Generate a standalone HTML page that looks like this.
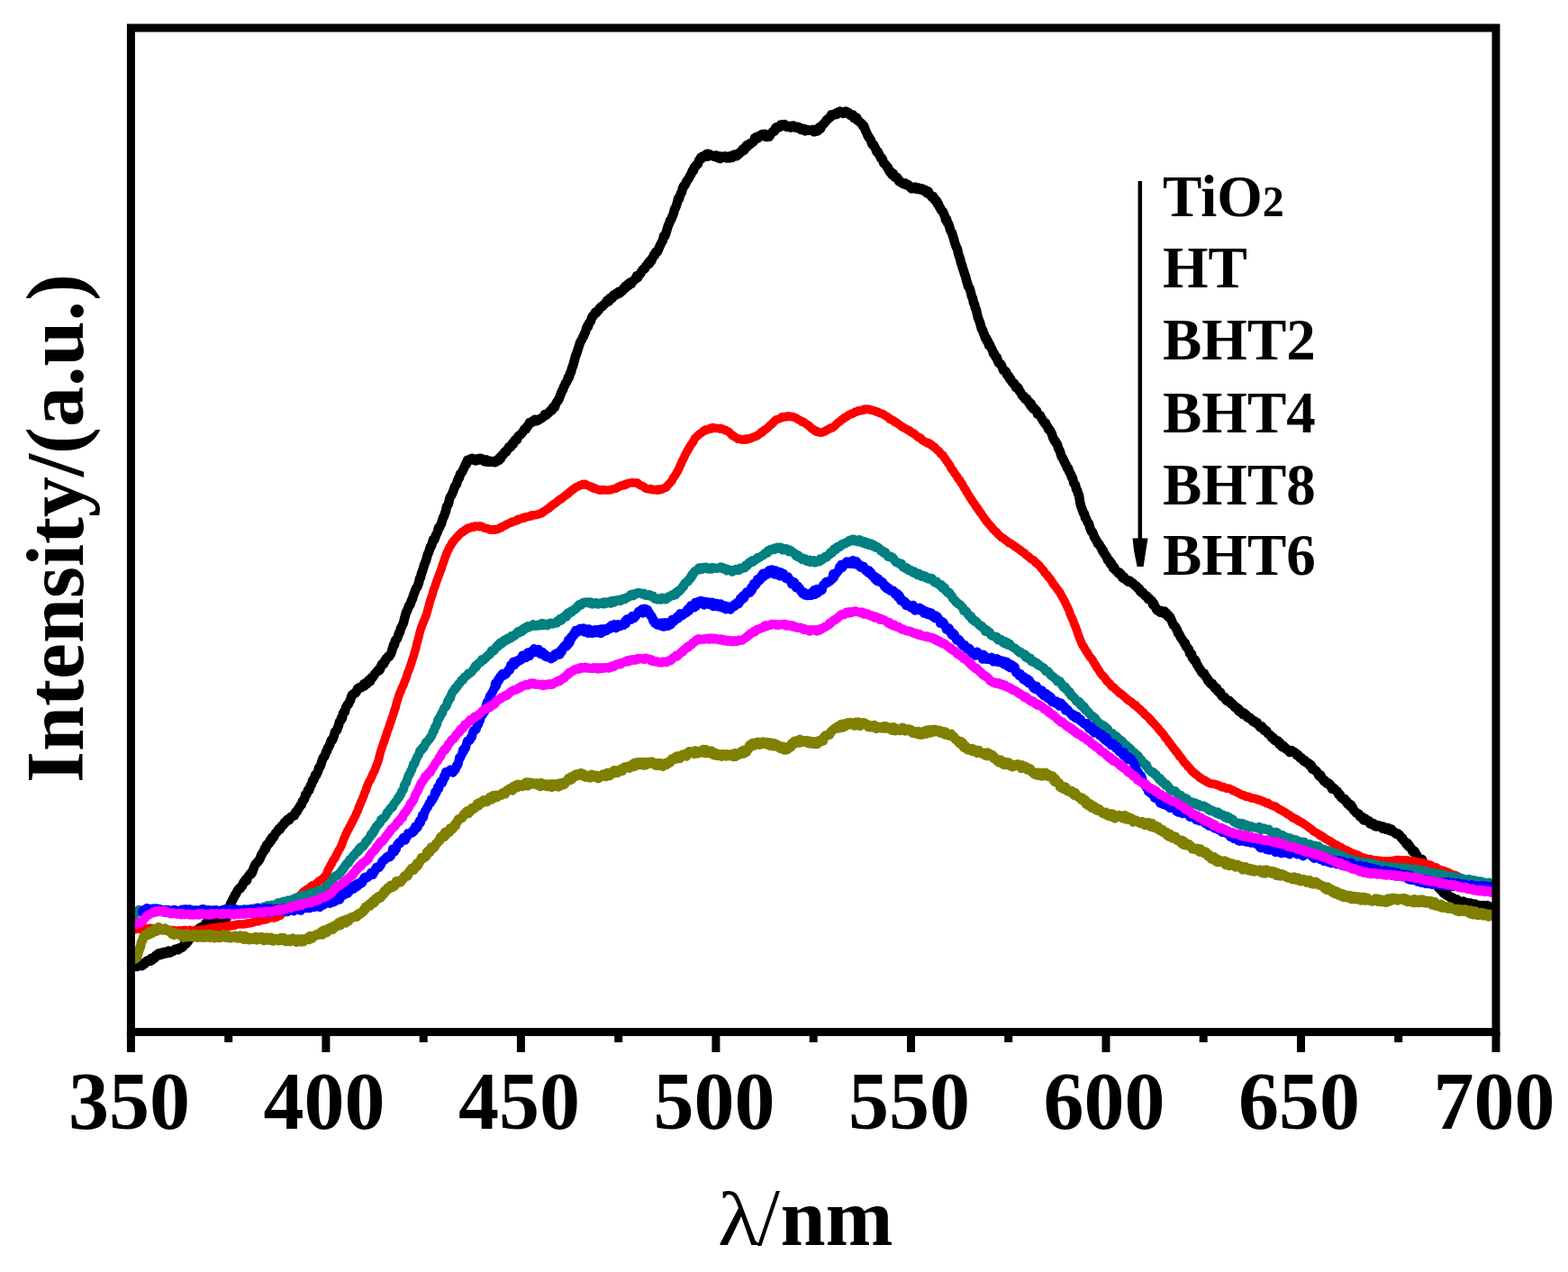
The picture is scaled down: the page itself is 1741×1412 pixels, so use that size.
<!DOCTYPE html>
<html><head><meta charset="utf-8"><title>PL spectra</title><style>
html,body{margin:0;padding:0;background:#fff;}
svg{display:block;}
</style></head><body>
<svg width="1741" height="1412" viewBox="0 0 1741 1412">
<rect width="1741" height="1412" fill="#fff"/>
<g fill="none" stroke-linejoin="round" stroke-linecap="round">
<path d="M146.0 1070.9L147.0 1071.9L148.0 1072.9L149.0 1072.8L150.0 1072.9L151.0 1071.9L152.0 1073.0L153.0 1072.0L154.0 1070.3L155.0 1071.3L156.0 1069.7L157.0 1072.3L158.0 1071.9L159.0 1069.5L160.0 1068.9L161.0 1069.8L162.0 1067.4L163.0 1066.8L164.0 1066.2L165.0 1066.1L166.0 1066.4L167.0 1066.8L168.0 1063.8L169.0 1065.6L170.0 1063.7L171.0 1064.2L172.0 1063.3L173.0 1060.6L174.0 1061.5L175.0 1059.3L176.0 1058.4L177.0 1059.2L178.0 1060.0L179.0 1059.0L180.0 1057.4L181.0 1059.2L182.0 1059.1L183.0 1056.7L184.0 1057.1L185.0 1057.5L186.0 1058.2L187.0 1055.5L188.0 1056.6L189.0 1057.6L190.0 1056.2L191.0 1056.2L192.0 1056.1L193.0 1054.9L194.0 1053.9L195.0 1054.6L196.0 1054.0L197.0 1053.0L198.0 1054.2L199.0 1052.1L200.0 1052.0L201.0 1052.2L202.0 1051.7L203.0 1051.2L204.0 1049.7L205.0 1047.3L206.0 1048.1L207.0 1047.3L208.0 1045.7L209.0 1044.8L210.0 1043.0L211.0 1041.9L212.0 1041.2L213.0 1038.8L214.0 1039.5L215.0 1039.1L216.0 1035.9L217.0 1036.8L218.0 1035.7L219.0 1032.8L220.0 1031.5L221.0 1032.2L222.0 1029.9L223.0 1029.2L224.0 1029.3L225.0 1028.6L226.0 1028.1L227.0 1026.9L228.0 1025.6L229.0 1024.1L230.0 1024.1L231.0 1024.0L232.0 1024.8L233.0 1025.2L234.0 1023.3L235.0 1023.6L236.0 1025.2L237.0 1023.2L238.0 1024.0L239.0 1023.4L240.0 1023.3L241.0 1022.5L242.0 1022.6L243.0 1022.9L244.0 1021.1L245.0 1023.0L246.0 1023.1L247.0 1020.2L248.0 1020.4L249.0 1020.2L250.0 1019.1L251.0 1018.3L252.0 1018.4L253.0 1013.7L254.0 1008.4L255.0 1007.3L256.0 1003.1L257.0 1001.5L258.0 999.4L259.0 997.2L260.0 995.8L261.0 993.2L262.0 992.8L263.0 990.1L264.0 988.2L265.0 986.8L266.0 985.9L267.0 986.1L268.0 983.6L269.0 983.5L270.0 980.3L271.0 978.7L272.0 978.9L273.0 976.0L274.0 977.4L275.0 974.2L276.0 972.5L277.0 971.1L278.0 969.7L279.0 970.1L280.0 968.7L281.0 965.6L282.0 962.9L283.0 960.5L284.0 958.9L285.0 957.9L286.0 957.3L287.0 955.5L288.0 954.5L289.0 952.5L290.0 949.2L291.0 948.4L292.0 945.9L293.0 945.0L294.0 941.6L295.0 942.5L296.0 938.0L297.0 938.4L298.0 936.1L299.0 936.1L300.0 932.6L301.0 933.6L302.0 929.4L303.0 930.4L304.0 929.0L305.0 927.1L306.0 924.7L307.0 924.1L308.0 923.0L309.0 921.0L310.0 919.6L311.0 920.6L312.0 918.5L313.0 916.4L314.0 916.4L315.0 915.3L316.0 912.7L317.0 913.1L318.0 912.1L319.0 909.7L320.0 909.4L321.0 910.4L322.0 908.6L323.0 906.7L324.0 906.4L325.0 905.8L326.0 905.7L327.0 905.3L328.0 901.8L329.0 900.6L330.0 900.6L331.0 898.0L332.0 896.9L333.0 895.1L334.0 893.3L335.0 893.1L336.0 889.1L337.0 888.3L338.0 887.2L339.0 882.5L340.0 882.6L341.0 880.2L342.0 877.0L343.0 877.6L344.0 874.9L345.0 871.6L346.0 871.0L347.0 866.2L348.0 866.4L349.0 864.4L350.0 860.1L351.0 860.7L352.0 858.2L353.0 856.5L354.0 852.4L355.0 851.7L356.0 849.7L357.0 846.2L358.0 843.0L359.0 840.8L360.0 840.2L361.0 838.1L362.0 834.6L363.0 834.1L364.0 830.0L365.0 829.2L366.0 827.1L367.0 823.9L368.0 821.2L369.0 821.7L370.0 819.3L371.0 816.2L372.0 812.2L373.0 811.5L374.0 810.7L375.0 807.8L376.0 805.3L377.0 801.0L378.0 800.4L379.0 797.0L380.0 797.1L381.0 791.7L382.0 790.1L383.0 790.0L384.0 785.3L385.0 783.8L386.0 781.8L387.0 781.6L388.0 778.9L389.0 777.6L390.0 773.4L391.0 771.3L392.0 770.6L393.0 770.7L394.0 769.0L395.0 769.0L396.0 767.3L397.0 764.4L398.0 764.4L399.0 763.2L400.0 762.7L401.0 763.3L402.0 761.8L403.0 762.1L404.0 759.1L405.0 761.2L406.0 758.1L407.0 759.2L408.0 758.8L409.0 755.4L410.0 756.1L411.0 756.5L412.0 752.4L413.0 752.9L414.0 751.5L415.0 750.2L416.0 748.4L417.0 747.1L418.0 746.1L419.0 744.7L420.0 743.6L421.0 744.3L422.0 743.1L423.0 739.5L424.0 737.4L425.0 736.7L426.0 737.2L427.0 733.7L428.0 733.8L429.0 730.6L430.0 730.2L431.0 728.5L432.0 729.1L433.0 726.9L434.0 726.0L435.0 722.7L436.0 719.7L437.0 715.8L438.0 715.8L439.0 710.8L440.0 709.9L441.0 709.1L442.0 706.1L443.0 702.4L444.0 701.8L445.0 697.3L446.0 695.9L447.0 693.4L448.0 691.3L449.0 686.8L450.0 683.5L451.0 679.5L452.0 678.3L453.0 675.5L454.0 672.3L455.0 671.9L456.0 669.5L457.0 666.2L458.0 664.6L459.0 660.9L460.0 658.7L461.0 655.7L462.0 653.0L463.0 652.0L464.0 649.9L465.0 647.0L466.0 642.0L467.0 641.2L468.0 636.1L469.0 634.1L470.0 630.7L471.0 627.2L472.0 624.8L473.0 622.4L474.0 618.6L475.0 615.0L476.0 613.2L477.0 610.2L478.0 606.6L479.0 606.2L480.0 602.2L481.0 598.9L482.0 599.7L483.0 597.4L484.0 593.9L485.0 592.4L486.0 589.9L487.0 585.8L488.0 585.7L489.0 582.9L490.0 581.6L491.0 577.7L492.0 574.5L493.0 573.3L494.0 569.7L495.0 567.7L496.0 562.1L497.0 561.2L498.0 559.2L499.0 554.3L500.0 551.4L501.0 550.1L502.0 548.2L503.0 545.7L504.0 543.0L505.0 540.0L506.0 538.9L507.0 537.4L508.0 533.6L509.0 531.0L510.0 530.7L511.0 526.1L512.0 525.3L513.0 524.2L514.0 522.0L515.0 519.8L516.0 517.6L517.0 515.1L518.0 515.2L519.0 510.7L520.0 511.0L521.0 510.4L522.0 510.8L523.0 509.2L524.0 508.8L525.0 509.7L526.0 510.4L527.0 510.2L528.0 511.4L529.0 510.2L530.0 509.3L531.0 510.7L532.0 509.9L533.0 508.8L534.0 510.0L535.0 509.2L536.0 510.9L537.0 511.9L538.0 511.6L539.0 512.6L540.0 510.3L541.0 512.8L542.0 512.9L543.0 511.5L544.0 512.5L545.0 511.7L546.0 512.2L547.0 513.0L548.0 512.5L549.0 512.3L550.0 513.1L551.0 512.6L552.0 510.3L553.0 511.1L554.0 511.0L555.0 507.7L556.0 509.0L557.0 505.7L558.0 505.9L559.0 504.6L560.0 502.2L561.0 501.2L562.0 501.8L563.0 499.3L564.0 498.8L565.0 496.4L566.0 496.6L567.0 496.4L568.0 494.5L569.0 492.1L570.0 492.9L571.0 489.8L572.0 488.4L573.0 487.6L574.0 488.2L575.0 485.1L576.0 483.6L577.0 483.2L578.0 482.3L579.0 481.5L580.0 480.1L581.0 478.8L582.0 476.8L583.0 475.7L584.0 476.4L585.0 473.7L586.0 473.5L587.0 471.2L588.0 469.2L589.0 469.6L590.0 469.3L591.0 468.2L592.0 467.1L593.0 466.5L594.0 465.7L595.0 467.4L596.0 466.4L597.0 466.8L598.0 466.3L599.0 465.3L600.0 464.7L601.0 464.4L602.0 463.7L603.0 462.7L604.0 462.3L605.0 459.9L606.0 461.2L607.0 460.2L608.0 459.2L609.0 458.5L610.0 457.4L611.0 456.0L612.0 455.0L613.0 455.4L614.0 452.3L615.0 452.4L616.0 452.1L617.0 448.6L618.0 446.7L619.0 445.5L620.0 444.0L621.0 442.1L622.0 438.9L623.0 436.6L624.0 434.0L625.0 432.7L626.0 429.4L627.0 427.9L628.0 425.2L629.0 424.5L630.0 422.2L631.0 418.7L632.0 418.8L633.0 414.0L634.0 413.4L635.0 408.7L636.0 406.5L637.0 403.1L638.0 399.5L639.0 395.1L640.0 393.3L641.0 389.9L642.0 386.8L643.0 383.9L644.0 380.6L645.0 378.5L646.0 377.1L647.0 374.6L648.0 373.3L649.0 370.3L650.0 368.9L651.0 364.7L652.0 362.4L653.0 362.7L654.0 358.9L655.0 357.5L656.0 356.6L657.0 352.6L658.0 351.0L659.0 350.7L660.0 348.4L661.0 346.7L662.0 347.6L663.0 345.9L664.0 344.5L665.0 344.0L666.0 341.9L667.0 341.1L668.0 340.0L669.0 340.0L670.0 338.5L671.0 337.9L672.0 336.9L673.0 336.1L674.0 333.5L675.0 335.0L676.0 334.5L677.0 331.0L678.0 332.3L679.0 331.0L680.0 330.8L681.0 327.7L682.0 327.1L683.0 328.0L684.0 327.3L685.0 325.2L686.0 326.6L687.0 323.7L688.0 325.5L689.0 324.5L690.0 323.5L691.0 323.2L692.0 320.6L693.0 320.8L694.0 318.0L695.0 319.5L696.0 316.8L697.0 315.5L698.0 316.9L699.0 313.8L700.0 314.7L701.0 314.8L702.0 312.5L703.0 311.6L704.0 311.4L705.0 310.4L706.0 308.6L707.0 306.2L708.0 308.2L709.0 306.4L710.0 304.5L711.0 304.1L712.0 301.7L713.0 300.6L714.0 298.8L715.0 298.8L716.0 298.2L717.0 295.5L718.0 294.5L719.0 293.9L720.0 291.4L721.0 292.6L722.0 289.2L723.0 290.1L724.0 287.6L725.0 285.3L726.0 283.0L727.0 283.2L728.0 279.8L729.0 279.0L730.0 279.4L731.0 277.0L732.0 274.7L733.0 272.3L734.0 270.3L735.0 268.5L736.0 266.8L737.0 262.0L738.0 262.4L739.0 260.3L740.0 256.7L741.0 253.4L742.0 250.0L743.0 248.4L744.0 244.8L745.0 244.2L746.0 241.4L747.0 239.1L748.0 236.7L749.0 232.1L750.0 230.7L751.0 227.9L752.0 224.7L753.0 220.6L754.0 220.7L755.0 217.2L756.0 214.5L757.0 213.4L758.0 208.8L759.0 206.4L760.0 206.3L761.0 204.5L762.0 202.0L763.0 200.3L764.0 199.2L765.0 197.7L766.0 195.4L767.0 194.0L768.0 191.7L769.0 189.0L770.0 189.5L771.0 185.5L772.0 184.4L773.0 184.2L774.0 181.9L775.0 181.8L776.0 178.3L777.0 177.3L778.0 175.0L779.0 176.0L780.0 173.6L781.0 174.1L782.0 173.6L783.0 172.4L784.0 171.1L785.0 173.8L786.0 170.8L787.0 173.4L788.0 171.3L789.0 172.4L790.0 172.6L791.0 172.7L792.0 173.4L793.0 173.9L794.0 174.1L795.0 172.4L796.0 173.5L797.0 173.1L798.0 175.7L799.0 174.5L800.0 176.0L801.0 173.5L802.0 175.0L803.0 174.4L804.0 173.8L805.0 173.4L806.0 174.7L807.0 175.6L808.0 174.3L809.0 174.3L810.0 175.6L811.0 173.3L812.0 173.4L813.0 174.9L814.0 172.1L815.0 171.7L816.0 173.4L817.0 172.4L818.0 173.3L819.0 171.7L820.0 170.1L821.0 170.6L822.0 169.1L823.0 168.8L824.0 166.5L825.0 165.2L826.0 166.9L827.0 165.7L828.0 162.5L829.0 161.3L830.0 162.7L831.0 161.4L832.0 159.7L833.0 160.1L834.0 159.2L835.0 158.4L836.0 157.8L837.0 156.6L838.0 153.2L839.0 154.4L840.0 151.9L841.0 153.7L842.0 152.7L843.0 151.4L844.0 150.3L845.0 150.6L846.0 149.0L847.0 150.2L848.0 151.3L849.0 148.7L850.0 150.4L851.0 152.1L852.0 150.3L853.0 150.8L854.0 151.8L855.0 150.3L856.0 148.3L857.0 147.5L858.0 146.1L859.0 145.3L860.0 145.6L861.0 142.1L862.0 141.3L863.0 142.4L864.0 140.5L865.0 140.6L866.0 141.0L867.0 138.4L868.0 138.5L869.0 138.3L870.0 138.4L871.0 138.1L872.0 138.7L873.0 140.9L874.0 141.0L875.0 140.4L876.0 140.0L877.0 140.9L878.0 141.7L879.0 139.7L880.0 141.3L881.0 139.5L882.0 140.5L883.0 141.3L884.0 141.8L885.0 140.8L886.0 141.7L887.0 141.2L888.0 142.2L889.0 143.9L890.0 142.4L891.0 142.9L892.0 144.1L893.0 143.0L894.0 145.5L895.0 143.9L896.0 143.9L897.0 144.1L898.0 144.7L899.0 144.8L900.0 144.8L901.0 144.9L902.0 144.2L903.0 143.8L904.0 146.3L905.0 146.1L906.0 145.5L907.0 144.3L908.0 145.4L909.0 142.1L910.0 141.0L911.0 142.9L912.0 140.5L913.0 139.3L914.0 137.9L915.0 137.2L916.0 135.8L917.0 134.7L918.0 132.8L919.0 132.6L920.0 131.2L921.0 130.9L922.0 130.0L923.0 127.3L924.0 127.8L925.0 128.0L926.0 127.6L927.0 126.3L928.0 126.4L929.0 127.0L930.0 124.6L931.0 124.4L932.0 124.3L933.0 123.6L934.0 124.9L935.0 124.8L936.0 126.0L937.0 124.6L938.0 123.8L939.0 123.6L940.0 125.5L941.0 124.4L942.0 124.8L943.0 126.4L944.0 128.0L945.0 127.0L946.0 127.5L947.0 127.5L948.0 131.0L949.0 131.2L950.0 131.0L951.0 130.3L952.0 133.9L953.0 133.7L954.0 134.9L955.0 135.8L956.0 136.6L957.0 137.4L958.0 139.9L959.0 139.4L960.0 141.9L961.0 145.0L962.0 146.9L963.0 149.3L964.0 151.7L965.0 152.3L966.0 154.3L967.0 155.5L968.0 159.3L969.0 160.9L970.0 160.5L971.0 162.7L972.0 164.7L973.0 167.7L974.0 169.1L975.0 168.9L976.0 171.3L977.0 173.2L978.0 175.6L979.0 175.3L980.0 177.1L981.0 180.6L982.0 182.0L983.0 182.4L984.0 183.8L985.0 185.9L986.0 186.0L987.0 189.2L988.0 191.0L989.0 190.3L990.0 193.5L991.0 194.4L992.0 192.8L993.0 196.0L994.0 197.0L995.0 197.3L996.0 196.9L997.0 198.6L998.0 200.9L999.0 200.6L1000.0 202.5L1001.0 202.7L1002.0 202.8L1003.0 204.2L1004.0 203.7L1005.0 203.3L1006.0 205.2L1007.0 204.7L1008.0 205.6L1009.0 205.4L1010.0 207.2L1011.0 208.3L1012.0 209.3L1013.0 208.7L1014.0 208.8L1015.0 209.1L1016.0 207.5L1017.0 208.8L1018.0 209.9L1019.0 209.2L1020.0 208.5L1021.0 209.9L1022.0 210.7L1023.0 209.6L1024.0 209.4L1025.0 210.3L1026.0 212.0L1027.0 210.8L1028.0 211.4L1029.0 214.3L1030.0 212.0L1031.0 212.9L1032.0 215.9L1033.0 216.3L1034.0 217.9L1035.0 219.1L1036.0 217.9L1037.0 220.9L1038.0 220.7L1039.0 223.4L1040.0 222.9L1041.0 226.8L1042.0 226.6L1043.0 229.7L1044.0 230.8L1045.0 233.3L1046.0 234.3L1047.0 235.0L1048.0 237.8L1049.0 239.7L1050.0 244.1L1051.0 243.2L1052.0 247.7L1053.0 248.0L1054.0 251.1L1055.0 255.0L1056.0 257.2L1057.0 258.4L1058.0 262.1L1059.0 265.1L1060.0 269.2L1061.0 271.8L1062.0 274.7L1063.0 276.4L1064.0 281.1L1065.0 284.6L1066.0 287.0L1067.0 291.9L1068.0 294.0L1069.0 298.1L1070.0 300.5L1071.0 304.3L1072.0 306.5L1073.0 311.0L1074.0 314.0L1075.0 318.0L1076.0 318.9L1077.0 321.3L1078.0 325.2L1079.0 329.3L1080.0 330.8L1081.0 336.4L1082.0 337.6L1083.0 342.3L1084.0 344.0L1085.0 349.0L1086.0 353.0L1087.0 355.4L1088.0 357.8L1089.0 361.6L1090.0 365.7L1091.0 366.0L1092.0 370.0L1093.0 371.6L1094.0 375.3L1095.0 375.1L1096.0 379.0L1097.0 378.5L1098.0 383.4L1099.0 382.5L1100.0 385.4L1101.0 386.9L1102.0 389.0L1103.0 392.7L1104.0 392.4L1105.0 395.3L1106.0 397.1L1107.0 397.1L1108.0 401.0L1109.0 403.2L1110.0 403.4L1111.0 403.9L1112.0 405.8L1113.0 408.2L1114.0 410.9L1115.0 411.7L1116.0 411.7L1117.0 412.6L1118.0 416.0L1119.0 416.6L1120.0 417.5L1121.0 420.5L1122.0 420.2L1123.0 423.1L1124.0 424.4L1125.0 425.8L1126.0 425.4L1127.0 427.5L1128.0 430.1L1129.0 429.5L1130.0 430.1L1131.0 431.3L1132.0 434.4L1133.0 435.2L1134.0 437.2L1135.0 439.2L1136.0 439.3L1137.0 440.1L1138.0 442.8L1139.0 443.4L1140.0 442.5L1141.0 444.4L1142.0 446.7L1143.0 446.6L1144.0 450.2L1145.0 448.4L1146.0 452.2L1147.0 453.5L1148.0 452.9L1149.0 454.0L1150.0 455.9L1151.0 456.0L1152.0 459.7L1153.0 459.8L1154.0 460.7L1155.0 461.2L1156.0 463.6L1157.0 465.1L1158.0 466.9L1159.0 468.4L1160.0 469.9L1161.0 469.4L1162.0 472.2L1163.0 473.5L1164.0 476.4L1165.0 476.3L1166.0 478.3L1167.0 479.9L1168.0 481.8L1169.0 485.6L1170.0 487.4L1171.0 489.7L1172.0 489.8L1173.0 492.3L1174.0 493.3L1175.0 497.4L1176.0 499.1L1177.0 501.1L1178.0 504.9L1179.0 507.5L1180.0 508.5L1181.0 510.8L1182.0 512.7L1183.0 515.2L1184.0 516.5L1185.0 519.8L1186.0 519.5L1187.0 523.1L1188.0 524.8L1189.0 526.6L1190.0 530.1L1191.0 530.4L1192.0 535.5L1193.0 537.6L1194.0 538.0L1195.0 543.0L1196.0 544.0L1197.0 548.1L1198.0 549.5L1199.0 556.5L1200.0 561.3L1201.0 563.9L1202.0 566.6L1203.0 569.4L1204.0 570.3L1205.0 575.2L1206.0 575.7L1207.0 578.3L1208.0 580.3L1209.0 581.2L1210.0 585.1L1211.0 588.1L1212.0 590.3L1213.0 590.6L1214.0 592.7L1215.0 596.4L1216.0 597.6L1217.0 599.2L1218.0 601.0L1219.0 603.5L1220.0 603.5L1221.0 605.4L1222.0 607.1L1223.0 608.3L1224.0 611.3L1225.0 611.1L1226.0 614.7L1227.0 615.3L1228.0 617.4L1229.0 618.1L1230.0 621.9L1231.0 621.4L1232.0 622.4L1233.0 626.3L1234.0 625.2L1235.0 627.3L1236.0 630.8L1237.0 629.4L1238.0 631.7L1239.0 633.4L1240.0 634.0L1241.0 634.9L1242.0 636.7L1243.0 635.4L1244.0 637.2L1245.0 637.6L1246.0 641.1L1247.0 641.7L1248.0 640.4L1249.0 642.3L1250.0 643.6L1251.0 643.8L1252.0 645.2L1253.0 646.0L1254.0 644.4L1255.0 645.3L1256.0 646.4L1257.0 647.1L1258.0 647.4L1259.0 648.7L1260.0 649.9L1261.0 650.7L1262.0 650.6L1263.0 652.6L1264.0 653.7L1265.0 653.4L1266.0 656.5L1267.0 656.4L1268.0 658.3L1269.0 657.7L1270.0 659.6L1271.0 660.2L1272.0 662.1L1273.0 661.2L1274.0 662.6L1275.0 665.3L1276.0 664.2L1277.0 665.8L1278.0 666.5L1279.0 667.0L1280.0 671.2L1281.0 669.6L1282.0 672.7L1283.0 674.0L1284.0 676.3L1285.0 677.8L1286.0 677.9L1287.0 677.9L1288.0 679.7L1289.0 677.8L1290.0 679.4L1291.0 678.6L1292.0 680.9L1293.0 678.6L1294.0 680.8L1295.0 680.6L1296.0 683.7L1297.0 682.5L1298.0 685.6L1299.0 684.8L1300.0 687.1L1301.0 689.2L1302.0 691.8L1303.0 694.0L1304.0 694.7L1305.0 695.5L1306.0 697.9L1307.0 699.0L1308.0 703.1L1309.0 703.5L1310.0 705.2L1311.0 707.8L1312.0 709.2L1313.0 710.4L1314.0 711.8L1315.0 714.1L1316.0 714.1L1317.0 717.9L1318.0 718.2L1319.0 719.9L1320.0 720.8L1321.0 725.3L1322.0 725.3L1323.0 725.6L1324.0 730.4L1325.0 731.4L1326.0 733.1L1327.0 732.6L1328.0 734.5L1329.0 737.8L1330.0 738.8L1331.0 740.9L1332.0 742.3L1333.0 743.7L1334.0 745.8L1335.0 747.1L1336.0 747.7L1337.0 747.5L1338.0 750.0L1339.0 751.3L1340.0 752.3L1341.0 755.2L1342.0 755.2L1343.0 757.5L1344.0 758.8L1345.0 759.6L1346.0 758.6L1347.0 761.4L1348.0 761.7L1349.0 764.1L1350.0 763.2L1351.0 763.9L1352.0 767.2L1353.0 768.1L1354.0 769.1L1355.0 768.4L1356.0 771.1L1357.0 772.9L1358.0 773.7L1359.0 773.7L1360.0 774.0L1361.0 776.7L1362.0 777.7L1363.0 778.2L1364.0 778.0L1365.0 777.8L1366.0 779.7L1367.0 781.6L1368.0 780.8L1369.0 782.2L1370.0 782.9L1371.0 785.2L1372.0 784.6L1373.0 786.2L1374.0 786.1L1375.0 789.1L1376.0 787.6L1377.0 790.4L1378.0 789.8L1379.0 791.7L1380.0 793.2L1381.0 791.3L1382.0 792.4L1383.0 793.1L1384.0 793.9L1385.0 796.4L1386.0 795.7L1387.0 797.2L1388.0 796.7L1389.0 798.7L1390.0 798.7L1391.0 800.8L1392.0 800.4L1393.0 800.3L1394.0 802.3L1395.0 802.3L1396.0 802.3L1397.0 804.5L1398.0 805.7L1399.0 806.9L1400.0 807.6L1401.0 806.2L1402.0 808.1L1403.0 808.7L1404.0 811.2L1405.0 811.4L1406.0 810.9L1407.0 812.9L1408.0 814.6L1409.0 815.0L1410.0 815.8L1411.0 816.5L1412.0 818.8L1413.0 819.5L1414.0 819.0L1415.0 821.6L1416.0 822.2L1417.0 821.7L1418.0 822.8L1419.0 822.4L1420.0 825.8L1421.0 824.4L1422.0 825.9L1423.0 828.6L1424.0 829.4L1425.0 827.9L1426.0 829.7L1427.0 829.8L1428.0 831.6L1429.0 831.5L1430.0 832.7L1431.0 833.5L1432.0 835.0L1433.0 833.5L1434.0 833.1L1435.0 834.5L1436.0 834.3L1437.0 835.0L1438.0 835.5L1439.0 836.8L1440.0 838.5L1441.0 837.6L1442.0 839.2L1443.0 841.0L1444.0 841.0L1445.0 841.1L1446.0 842.9L1447.0 844.2L1448.0 845.1L1449.0 844.3L1450.0 846.2L1451.0 847.0L1452.0 846.7L1453.0 847.2L1454.0 849.7L1455.0 848.7L1456.0 849.6L1457.0 853.7L1458.0 853.3L1459.0 853.9L1460.0 855.2L1461.0 855.4L1462.0 856.3L1463.0 858.1L1464.0 860.3L1465.0 861.7L1466.0 860.2L1467.0 862.2L1468.0 864.6L1469.0 864.8L1470.0 867.0L1471.0 866.4L1472.0 868.2L1473.0 869.8L1474.0 869.6L1475.0 869.3L1476.0 870.0L1477.0 871.2L1478.0 873.7L1479.0 875.8L1480.0 874.2L1481.0 875.9L1482.0 875.7L1483.0 877.3L1484.0 878.2L1485.0 878.4L1486.0 881.5L1487.0 882.7L1488.0 882.2L1489.0 885.0L1490.0 886.0L1491.0 886.7L1492.0 887.0L1493.0 886.9L1494.0 889.4L1495.0 889.0L1496.0 892.1L1497.0 892.9L1498.0 891.9L1499.0 895.0L1500.0 893.6L1501.0 895.4L1502.0 896.8L1503.0 899.6L1504.0 900.2L1505.0 901.2L1506.0 902.5L1507.0 902.8L1508.0 903.2L1509.0 903.7L1510.0 906.5L1511.0 906.2L1512.0 907.1L1513.0 907.2L1514.0 910.4L1515.0 908.6L1516.0 908.7L1517.0 910.4L1518.0 910.7L1519.0 911.4L1520.0 911.3L1521.0 914.3L1522.0 913.6L1523.0 915.1L1524.0 915.3L1525.0 913.9L1526.0 916.8L1527.0 915.6L1528.0 917.6L1529.0 916.7L1530.0 916.8L1531.0 916.3L1532.0 916.7L1533.0 917.1L1534.0 918.5L1535.0 919.8L1536.0 917.5L1537.0 920.2L1538.0 918.7L1539.0 920.7L1540.0 919.2L1541.0 919.0L1542.0 919.5L1543.0 922.1L1544.0 922.3L1545.0 920.4L1546.0 922.3L1547.0 923.5L1548.0 923.7L1549.0 924.7L1550.0 925.6L1551.0 924.8L1552.0 925.5L1553.0 926.1L1554.0 927.0L1555.0 928.9L1556.0 930.2L1557.0 930.2L1558.0 932.6L1559.0 933.3L1560.0 934.2L1561.0 935.9L1562.0 937.7L1563.0 936.0L1564.0 939.7L1565.0 938.8L1566.0 941.1L1567.0 941.5L1568.0 944.4L1569.0 945.7L1570.0 944.4L1571.0 945.3L1572.0 948.1L1573.0 948.9L1574.0 951.1L1575.0 952.1L1576.0 953.5L1577.0 953.9L1578.0 954.7L1579.0 954.0L1580.0 956.9L1581.0 959.3L1582.0 960.8L1583.0 962.9L1584.0 964.1L1585.0 967.1L1586.0 968.0L1587.0 970.7L1588.0 972.2L1589.0 971.4L1590.0 975.8L1591.0 974.8L1592.0 978.0L1593.0 980.2L1594.0 979.5L1595.0 982.1L1596.0 983.1L1597.0 985.1L1598.0 986.2L1599.0 985.5L1600.0 986.3L1601.0 989.5L1602.0 988.2L1603.0 991.7L1604.0 989.7L1605.0 992.2L1606.0 993.9L1607.0 992.5L1608.0 994.4L1609.0 995.3L1610.0 995.3L1611.0 996.8L1612.0 996.1L1613.0 996.3L1614.0 997.2L1615.0 999.5L1616.0 1000.3L1617.0 998.8L1618.0 998.5L1619.0 999.9L1620.0 1001.1L1621.0 1002.5L1622.0 1000.7L1623.0 1001.3L1624.0 1002.5L1625.0 1000.6L1626.0 1003.3L1627.0 1003.5L1628.0 1003.4L1629.0 1002.1L1630.0 1003.4L1631.0 1003.2L1632.0 1003.8L1633.0 1002.4L1634.0 1004.4L1635.0 1004.2L1636.0 1003.4L1637.0 1004.7L1638.0 1003.6L1639.0 1005.4L1640.0 1005.4L1641.0 1005.0L1642.0 1005.1L1643.0 1004.9L1644.0 1005.7L1645.0 1005.5L1646.0 1005.3L1647.0 1005.0L1648.0 1006.1L1649.0 1006.3L1650.0 1006.2L1651.0 1005.0L1652.0 1005.3L1653.0 1008.2L1654.0 1008.5L1655.0 1006.6L1656.0 1008.5L1657.0 1008.1L1658.0 1006.4L1659.0 1007.4" stroke="#000000" stroke-width="10.5"/>
<path d="M146.0 1032.1L147.0 1031.5L148.0 1032.3L149.0 1032.1L150.0 1031.5L151.0 1031.6L152.0 1030.9L153.0 1030.8L154.0 1030.8L155.0 1031.2L156.0 1030.6L157.0 1031.4L158.0 1030.2L159.0 1030.3L160.0 1030.1L161.0 1030.9L162.0 1030.4L163.0 1030.5L164.0 1030.3L165.0 1030.7L166.0 1030.4L167.0 1030.3L168.0 1030.6L169.0 1030.6L170.0 1030.4L171.0 1031.4L172.0 1031.4L173.0 1031.5L174.0 1031.9L175.0 1031.4L176.0 1031.5L177.0 1031.6L178.0 1031.7L179.0 1032.2L180.0 1031.5L181.0 1032.2L182.0 1032.4L183.0 1032.3L184.0 1032.0L185.0 1032.9L186.0 1032.1L187.0 1032.9L188.0 1032.5L189.0 1032.4L190.0 1032.6L191.0 1032.5L192.0 1032.6L193.0 1033.3L194.0 1033.4L195.0 1033.0L196.0 1033.3L197.0 1033.1L198.0 1033.1L199.0 1033.6L200.0 1032.9L201.0 1033.6L202.0 1033.3L203.0 1033.3L204.0 1032.5L205.0 1032.6L206.0 1032.5L207.0 1032.9L208.0 1033.6L209.0 1033.5L210.0 1033.4L211.0 1032.5L212.0 1033.2L213.0 1033.3L214.0 1033.3L215.0 1033.3L216.0 1032.5L217.0 1032.5L218.0 1033.2L219.0 1033.1L220.0 1033.3L221.0 1032.7L222.0 1033.2L223.0 1032.2L224.0 1033.1L225.0 1033.0L226.0 1032.2L227.0 1031.7L228.0 1032.1L229.0 1032.1L230.0 1031.4L231.0 1030.8L232.0 1030.8L233.0 1031.3L234.0 1030.2L235.0 1031.0L236.0 1030.0L237.0 1029.9L238.0 1029.6L239.0 1030.5L240.0 1030.3L241.0 1029.5L242.0 1029.1L243.0 1029.7L244.0 1029.9L245.0 1028.7L246.0 1029.3L247.0 1029.4L248.0 1028.8L249.0 1028.8L250.0 1028.9L251.0 1028.1L252.0 1028.0L253.0 1028.3L254.0 1028.0L255.0 1027.9L256.0 1027.5L257.0 1028.0L258.0 1027.1L259.0 1027.4L260.0 1027.5L261.0 1026.8L262.0 1026.2L263.0 1026.3L264.0 1026.0L265.0 1025.9L266.0 1025.8L267.0 1025.9L268.0 1025.9L269.0 1025.9L270.0 1026.0L271.0 1025.9L272.0 1025.8L273.0 1025.3L274.0 1025.5L275.0 1025.2L276.0 1024.6L277.0 1024.9L278.0 1024.4L279.0 1024.6L280.0 1024.4L281.0 1023.5L282.0 1023.5L283.0 1023.3L284.0 1022.8L285.0 1022.3L286.0 1022.0L287.0 1022.9L288.0 1022.3L289.0 1021.7L290.0 1021.7L291.0 1021.0L292.0 1021.3L293.0 1021.3L294.0 1020.8L295.0 1020.2L296.0 1020.6L297.0 1020.3L298.0 1019.0L299.0 1019.1L300.0 1018.9L301.0 1018.5L302.0 1018.8L303.0 1018.2L304.0 1018.9L305.0 1018.9L306.0 1017.8L307.0 1018.3L308.0 1017.4L309.0 1017.3L310.0 1016.7L311.0 1016.4L312.0 1015.4L313.0 1014.0L314.0 1013.6L315.0 1011.9L316.0 1011.7L317.0 1010.4L318.0 1009.2L319.0 1008.2L320.0 1007.2L321.0 1006.9L322.0 1005.0L323.0 1004.2L324.0 1003.1L325.0 1002.1L326.0 1001.8L327.0 1000.6L328.0 999.7L329.0 998.9L330.0 997.3L331.0 995.7L332.0 994.8L333.0 994.1L334.0 993.2L335.0 992.4L336.0 990.9L337.0 989.7L338.0 989.3L339.0 988.9L340.0 987.5L341.0 987.6L342.0 987.0L343.0 986.0L344.0 985.2L345.0 984.1L346.0 983.4L347.0 982.7L348.0 982.7L349.0 982.2L350.0 981.9L351.0 980.7L352.0 980.6L353.0 979.2L354.0 978.2L355.0 977.4L356.0 977.0L357.0 976.5L358.0 976.2L359.0 974.5L360.0 973.5L361.0 972.9L362.0 971.0L363.0 969.2L364.0 966.2L365.0 964.5L366.0 962.5L367.0 960.6L368.0 959.2L369.0 956.8L370.0 954.8L371.0 953.5L372.0 952.5L373.0 950.2L374.0 948.0L375.0 946.1L376.0 944.1L377.0 942.4L378.0 940.9L379.0 938.7L380.0 936.1L381.0 933.6L382.0 930.5L383.0 928.9L384.0 926.0L385.0 924.4L386.0 921.8L387.0 920.8L388.0 917.9L389.0 916.5L390.0 914.7L391.0 912.7L392.0 910.8L393.0 908.5L394.0 906.9L395.0 904.9L396.0 902.2L397.0 900.4L398.0 897.8L399.0 894.5L400.0 892.8L401.0 889.7L402.0 888.0L403.0 885.1L404.0 883.2L405.0 879.7L406.0 878.2L407.0 874.6L408.0 872.1L409.0 869.5L410.0 867.3L411.0 866.0L412.0 863.7L413.0 861.8L414.0 858.9L415.0 857.5L416.0 855.4L417.0 852.8L418.0 849.6L419.0 847.6L420.0 844.3L421.0 840.8L422.0 836.6L423.0 833.2L424.0 830.4L425.0 827.2L426.0 824.2L427.0 821.8L428.0 818.3L429.0 815.9L430.0 812.0L431.0 809.7L432.0 807.0L433.0 803.2L434.0 801.1L435.0 797.7L436.0 795.1L437.0 792.1L438.0 788.3L439.0 785.9L440.0 781.6L441.0 778.1L442.0 775.2L443.0 771.8L444.0 769.2L445.0 767.4L446.0 764.2L447.0 762.3L448.0 760.3L449.0 757.3L450.0 755.1L451.0 752.5L452.0 748.9L453.0 746.0L454.0 744.0L455.0 741.2L456.0 738.2L457.0 735.1L458.0 731.8L459.0 729.1L460.0 725.5L461.0 722.1L462.0 718.5L463.0 713.7L464.0 710.8L465.0 706.9L466.0 702.3L467.0 698.9L468.0 696.3L469.0 693.3L470.0 691.0L471.0 688.3L472.0 686.0L473.0 683.6L474.0 680.5L475.0 676.6L476.0 673.3L477.0 669.1L478.0 665.8L479.0 663.0L480.0 660.2L481.0 656.3L482.0 653.4L483.0 650.9L484.0 647.8L485.0 644.8L486.0 642.0L487.0 639.6L488.0 637.2L489.0 633.7L490.0 631.6L491.0 627.8L492.0 625.2L493.0 622.9L494.0 619.4L495.0 617.0L496.0 614.3L497.0 611.9L498.0 610.4L499.0 607.4L500.0 606.2L501.0 604.7L502.0 602.3L503.0 601.7L504.0 599.8L505.0 599.1L506.0 597.8L507.0 596.4L508.0 595.9L509.0 594.6L510.0 593.2L511.0 592.6L512.0 591.3L513.0 590.5L514.0 590.5L515.0 589.8L516.0 588.2L517.0 588.5L518.0 587.7L519.0 586.4L520.0 586.0L521.0 586.0L522.0 586.2L523.0 585.8L524.0 584.8L525.0 584.8L526.0 585.2L527.0 584.1L528.0 583.9L529.0 584.2L530.0 584.4L531.0 584.6L532.0 584.7L533.0 583.8L534.0 584.2L535.0 584.3L536.0 585.2L537.0 585.3L538.0 586.2L539.0 586.2L540.0 586.5L541.0 586.9L542.0 586.7L543.0 587.8L544.0 588.0L545.0 588.2L546.0 588.3L547.0 587.6L548.0 587.5L549.0 587.8L550.0 588.1L551.0 587.3L552.0 587.8L553.0 587.5L554.0 586.9L555.0 586.2L556.0 585.3L557.0 585.6L558.0 584.3L559.0 584.1L560.0 583.9L561.0 583.2L562.0 582.2L563.0 582.4L564.0 581.3L565.0 580.9L566.0 580.5L567.0 580.4L568.0 579.2L569.0 579.5L570.0 579.0L571.0 578.9L572.0 578.0L573.0 577.9L574.0 578.0L575.0 576.5L576.0 577.0L577.0 576.2L578.0 575.7L579.0 575.3L580.0 574.8L581.0 575.3L582.0 574.2L583.0 574.8L584.0 573.9L585.0 573.4L586.0 573.7L587.0 573.3L588.0 573.4L589.0 572.3L590.0 572.8L591.0 571.8L592.0 571.8L593.0 571.9L594.0 571.6L595.0 571.3L596.0 571.4L597.0 571.3L598.0 570.6L599.0 570.4L600.0 570.3L601.0 569.2L602.0 569.6L603.0 567.9L604.0 567.7L605.0 567.6L606.0 566.2L607.0 565.6L608.0 564.7L609.0 564.8L610.0 564.0L611.0 562.2L612.0 562.1L613.0 560.9L614.0 560.0L615.0 559.5L616.0 559.3L617.0 558.4L618.0 557.3L619.0 556.9L620.0 555.6L621.0 555.1L622.0 554.1L623.0 554.2L624.0 552.9L625.0 552.5L626.0 551.3L627.0 550.6L628.0 550.1L629.0 548.9L630.0 548.5L631.0 548.0L632.0 546.4L633.0 545.8L634.0 544.8L635.0 544.5L636.0 543.3L637.0 543.0L638.0 541.7L639.0 541.4L640.0 540.4L641.0 540.3L642.0 539.8L643.0 539.5L644.0 538.5L645.0 538.6L646.0 538.3L647.0 537.5L648.0 538.3L649.0 538.3L650.0 537.5L651.0 538.4L652.0 538.6L653.0 538.9L654.0 539.4L655.0 539.4L656.0 540.6L657.0 541.0L658.0 540.8L659.0 542.3L660.0 542.5L661.0 542.1L662.0 542.4L663.0 542.8L664.0 543.7L665.0 543.9L666.0 544.3L667.0 544.3L668.0 543.6L669.0 543.6L670.0 543.6L671.0 543.9L672.0 544.0L673.0 543.9L674.0 544.3L675.0 544.0L676.0 544.1L677.0 544.1L678.0 543.8L679.0 543.3L680.0 543.0L681.0 542.9L682.0 542.4L683.0 542.3L684.0 542.2L685.0 541.6L686.0 540.6L687.0 540.6L688.0 540.0L689.0 539.2L690.0 538.8L691.0 538.8L692.0 539.1L693.0 538.5L694.0 537.4L695.0 538.2L696.0 537.6L697.0 537.2L698.0 536.2L699.0 536.3L700.0 536.1L701.0 536.1L702.0 535.5L703.0 536.0L704.0 536.0L705.0 536.0L706.0 536.0L707.0 536.2L708.0 536.1L709.0 537.4L710.0 538.0L711.0 538.6L712.0 539.2L713.0 539.2L714.0 539.9L715.0 540.2L716.0 541.6L717.0 542.2L718.0 542.6L719.0 542.4L720.0 542.9L721.0 543.1L722.0 542.4L723.0 542.5L724.0 543.7L725.0 543.9L726.0 543.7L727.0 543.7L728.0 543.5L729.0 544.1L730.0 543.4L731.0 543.1L732.0 543.9L733.0 542.9L734.0 543.5L735.0 543.2L736.0 542.3L737.0 542.2L738.0 541.5L739.0 541.5L740.0 540.7L741.0 539.3L742.0 538.1L743.0 537.1L744.0 536.0L745.0 534.8L746.0 533.8L747.0 531.5L748.0 529.8L749.0 528.8L750.0 526.9L751.0 525.6L752.0 523.7L753.0 521.6L754.0 519.9L755.0 517.0L756.0 515.6L757.0 512.7L758.0 510.9L759.0 508.9L760.0 506.8L761.0 504.3L762.0 502.8L763.0 500.9L764.0 499.1L765.0 497.5L766.0 495.8L767.0 493.8L768.0 492.7L769.0 491.4L770.0 489.9L771.0 487.5L772.0 486.2L773.0 485.2L774.0 484.3L775.0 483.3L776.0 482.3L777.0 481.3L778.0 481.1L779.0 480.4L780.0 479.6L781.0 478.3L782.0 478.4L783.0 477.0L784.0 477.7L785.0 477.0L786.0 476.9L787.0 476.0L788.0 476.1L789.0 475.3L790.0 475.9L791.0 474.9L792.0 474.6L793.0 474.8L794.0 475.3L795.0 475.2L796.0 475.6L797.0 475.5L798.0 475.8L799.0 476.2L800.0 475.4L801.0 475.7L802.0 476.2L803.0 476.3L804.0 477.2L805.0 477.8L806.0 477.6L807.0 478.5L808.0 478.8L809.0 479.2L810.0 480.3L811.0 481.1L812.0 482.4L813.0 483.5L814.0 483.2L815.0 484.4L816.0 485.1L817.0 485.9L818.0 485.9L819.0 487.3L820.0 486.9L821.0 487.5L822.0 487.4L823.0 487.7L824.0 488.2L825.0 487.9L826.0 487.5L827.0 488.2L828.0 487.2L829.0 487.9L830.0 487.4L831.0 486.7L832.0 487.3L833.0 486.9L834.0 486.2L835.0 486.3L836.0 485.1L837.0 484.9L838.0 484.7L839.0 484.7L840.0 483.5L841.0 483.7L842.0 482.5L843.0 482.0L844.0 481.4L845.0 479.9L846.0 480.2L847.0 479.1L848.0 477.8L849.0 477.0L850.0 477.0L851.0 475.8L852.0 475.4L853.0 474.4L854.0 473.1L855.0 472.1L856.0 471.6L857.0 470.9L858.0 469.3L859.0 468.7L860.0 467.4L861.0 466.5L862.0 465.8L863.0 465.5L864.0 465.2L865.0 465.0L866.0 464.4L867.0 464.3L868.0 463.0L869.0 463.5L870.0 462.6L871.0 462.4L872.0 462.5L873.0 462.9L874.0 462.2L875.0 461.7L876.0 462.1L877.0 462.5L878.0 462.7L879.0 462.2L880.0 462.6L881.0 462.7L882.0 463.5L883.0 463.7L884.0 464.0L885.0 464.8L886.0 465.6L887.0 466.0L888.0 466.7L889.0 466.9L890.0 468.1L891.0 467.7L892.0 468.3L893.0 468.9L894.0 470.0L895.0 470.4L896.0 470.9L897.0 471.4L898.0 473.1L899.0 473.0L900.0 474.5L901.0 475.7L902.0 475.7L903.0 476.8L904.0 477.9L905.0 478.0L906.0 479.1L907.0 478.5L908.0 479.5L909.0 480.0L910.0 479.8L911.0 480.2L912.0 480.3L913.0 480.0L914.0 479.3L915.0 479.2L916.0 479.1L917.0 478.3L918.0 477.2L919.0 476.9L920.0 476.8L921.0 475.7L922.0 475.1L923.0 475.5L924.0 474.4L925.0 474.4L926.0 473.5L927.0 472.7L928.0 471.5L929.0 470.5L930.0 469.5L931.0 468.8L932.0 468.3L933.0 467.6L934.0 466.2L935.0 465.7L936.0 464.8L937.0 464.7L938.0 463.2L939.0 463.2L940.0 462.3L941.0 462.1L942.0 460.8L943.0 460.3L944.0 460.0L945.0 459.3L946.0 459.3L947.0 459.2L948.0 458.3L949.0 457.5L950.0 456.9L951.0 457.2L952.0 456.7L953.0 455.8L954.0 455.9L955.0 456.1L956.0 455.7L957.0 455.1L958.0 455.6L959.0 455.4L960.0 454.1L961.0 454.2L962.0 454.6L963.0 454.2L964.0 454.1L965.0 454.9L966.0 455.1L967.0 454.8L968.0 455.6L969.0 455.4L970.0 455.8L971.0 456.0L972.0 456.6L973.0 457.2L974.0 457.1L975.0 457.4L976.0 458.2L977.0 458.7L978.0 459.0L979.0 458.9L980.0 459.4L981.0 460.3L982.0 460.5L983.0 461.5L984.0 462.1L985.0 462.4L986.0 463.1L987.0 464.3L988.0 465.3L989.0 465.1L990.0 466.3L991.0 466.5L992.0 466.7L993.0 468.4L994.0 468.1L995.0 469.2L996.0 469.3L997.0 470.3L998.0 471.0L999.0 471.7L1000.0 472.5L1001.0 473.7L1002.0 473.8L1003.0 474.2L1004.0 475.3L1005.0 475.4L1006.0 476.3L1007.0 476.6L1008.0 477.5L1009.0 477.3L1010.0 478.0L1011.0 479.3L1012.0 480.0L1013.0 480.2L1014.0 480.5L1015.0 481.9L1016.0 482.0L1017.0 483.1L1018.0 484.3L1019.0 485.0L1020.0 485.8L1021.0 485.6L1022.0 487.1L1023.0 486.9L1024.0 488.7L1025.0 489.1L1026.0 489.7L1027.0 490.4L1028.0 490.8L1029.0 491.3L1030.0 492.0L1031.0 491.5L1032.0 492.1L1033.0 493.5L1034.0 493.4L1035.0 494.9L1036.0 495.2L1037.0 496.4L1038.0 496.5L1039.0 497.9L1040.0 499.0L1041.0 500.0L1042.0 500.3L1043.0 501.3L1044.0 503.1L1045.0 504.1L1046.0 504.8L1047.0 505.4L1048.0 507.4L1049.0 508.7L1050.0 509.9L1051.0 511.7L1052.0 512.8L1053.0 514.6L1054.0 515.6L1055.0 517.2L1056.0 519.7L1057.0 521.3L1058.0 521.7L1059.0 523.8L1060.0 525.4L1061.0 526.8L1062.0 528.0L1063.0 529.5L1064.0 531.6L1065.0 532.2L1066.0 533.6L1067.0 536.0L1068.0 536.7L1069.0 538.7L1070.0 540.5L1071.0 542.3L1072.0 543.4L1073.0 545.5L1074.0 547.2L1075.0 549.0L1076.0 550.2L1077.0 552.4L1078.0 553.3L1079.0 555.4L1080.0 556.3L1081.0 558.3L1082.0 559.2L1083.0 561.1L1084.0 562.8L1085.0 563.4L1086.0 565.7L1087.0 566.3L1088.0 568.6L1089.0 569.3L1090.0 570.9L1091.0 572.4L1092.0 573.8L1093.0 575.6L1094.0 576.6L1095.0 578.5L1096.0 579.2L1097.0 580.9L1098.0 581.5L1099.0 583.0L1100.0 584.2L1101.0 585.0L1102.0 586.7L1103.0 587.6L1104.0 588.5L1105.0 589.7L1106.0 590.2L1107.0 591.3L1108.0 593.0L1109.0 593.7L1110.0 594.3L1111.0 595.8L1112.0 596.6L1113.0 597.2L1114.0 597.3L1115.0 598.4L1116.0 599.1L1117.0 600.1L1118.0 600.5L1119.0 601.4L1120.0 602.7L1121.0 602.5L1122.0 603.1L1123.0 604.3L1124.0 604.3L1125.0 605.3L1126.0 605.8L1127.0 607.0L1128.0 606.9L1129.0 608.0L1130.0 609.0L1131.0 609.5L1132.0 609.9L1133.0 610.4L1134.0 612.0L1135.0 612.5L1136.0 613.2L1137.0 613.5L1138.0 614.3L1139.0 615.8L1140.0 616.6L1141.0 617.4L1142.0 617.6L1143.0 618.9L1144.0 619.8L1145.0 620.7L1146.0 621.3L1147.0 621.3L1148.0 622.2L1149.0 623.3L1150.0 624.8L1151.0 625.1L1152.0 625.7L1153.0 627.2L1154.0 627.8L1155.0 629.1L1156.0 630.6L1157.0 631.5L1158.0 632.7L1159.0 633.9L1160.0 635.7L1161.0 636.9L1162.0 637.7L1163.0 638.6L1164.0 640.6L1165.0 641.3L1166.0 642.5L1167.0 644.0L1168.0 645.8L1169.0 647.6L1170.0 648.5L1171.0 650.2L1172.0 651.2L1173.0 652.8L1174.0 654.0L1175.0 655.6L1176.0 656.6L1177.0 658.0L1178.0 660.2L1179.0 661.9L1180.0 663.6L1181.0 665.3L1182.0 667.4L1183.0 669.2L1184.0 671.4L1185.0 673.7L1186.0 675.7L1187.0 677.6L1188.0 681.0L1189.0 683.5L1190.0 685.3L1191.0 687.8L1192.0 689.9L1193.0 693.5L1194.0 695.1L1195.0 698.2L1196.0 700.5L1197.0 704.2L1198.0 706.6L1199.0 709.3L1200.0 711.5L1201.0 714.0L1202.0 716.4L1203.0 717.4L1204.0 719.4L1205.0 720.9L1206.0 722.9L1207.0 723.9L1208.0 726.0L1209.0 727.4L1210.0 728.9L1211.0 730.4L1212.0 731.0L1213.0 732.4L1214.0 734.4L1215.0 736.1L1216.0 737.9L1217.0 739.0L1218.0 741.3L1219.0 742.3L1220.0 743.8L1221.0 745.6L1222.0 747.3L1223.0 748.5L1224.0 750.1L1225.0 750.5L1226.0 751.7L1227.0 752.8L1228.0 754.7L1229.0 756.0L1230.0 756.4L1231.0 758.0L1232.0 758.6L1233.0 760.0L1234.0 761.5L1235.0 762.4L1236.0 762.6L1237.0 763.3L1238.0 764.5L1239.0 765.7L1240.0 766.3L1241.0 767.3L1242.0 768.2L1243.0 769.5L1244.0 769.6L1245.0 770.5L1246.0 771.2L1247.0 772.3L1248.0 772.7L1249.0 773.9L1250.0 774.7L1251.0 775.9L1252.0 776.4L1253.0 777.6L1254.0 777.7L1255.0 778.7L1256.0 779.4L1257.0 779.7L1258.0 781.4L1259.0 782.1L1260.0 782.8L1261.0 782.5L1262.0 784.4L1263.0 785.3L1264.0 786.4L1265.0 786.4L1266.0 787.5L1267.0 789.0L1268.0 789.9L1269.0 790.2L1270.0 791.1L1271.0 793.1L1272.0 793.8L1273.0 794.4L1274.0 795.5L1275.0 796.1L1276.0 797.3L1277.0 799.1L1278.0 799.1L1279.0 801.1L1280.0 802.0L1281.0 802.6L1282.0 804.1L1283.0 805.0L1284.0 806.2L1285.0 807.3L1286.0 808.3L1287.0 810.2L1288.0 811.2L1289.0 812.0L1290.0 813.5L1291.0 814.4L1292.0 815.6L1293.0 817.1L1294.0 819.1L1295.0 819.6L1296.0 821.0L1297.0 822.1L1298.0 824.5L1299.0 825.0L1300.0 826.2L1301.0 828.2L1302.0 828.7L1303.0 830.9L1304.0 832.1L1305.0 832.5L1306.0 834.7L1307.0 835.3L1308.0 836.4L1309.0 838.5L1310.0 840.0L1311.0 840.6L1312.0 841.8L1313.0 843.4L1314.0 845.0L1315.0 846.5L1316.0 847.4L1317.0 848.2L1318.0 849.5L1319.0 851.2L1320.0 851.6L1321.0 852.9L1322.0 853.7L1323.0 855.7L1324.0 856.5L1325.0 856.8L1326.0 858.3L1327.0 859.4L1328.0 859.5L1329.0 860.3L1330.0 861.1L1331.0 862.5L1332.0 862.7L1333.0 863.9L1334.0 864.0L1335.0 865.1L1336.0 865.9L1337.0 866.0L1338.0 866.2L1339.0 867.5L1340.0 868.1L1341.0 867.9L1342.0 868.9L1343.0 869.4L1344.0 869.8L1345.0 870.0L1346.0 869.9L1347.0 870.0L1348.0 870.3L1349.0 870.6L1350.0 871.0L1351.0 871.2L1352.0 871.3L1353.0 872.0L1354.0 872.1L1355.0 873.1L1356.0 873.0L1357.0 874.0L1358.0 873.9L1359.0 873.6L1360.0 874.4L1361.0 874.6L1362.0 875.3L1363.0 875.3L1364.0 875.1L1365.0 875.4L1366.0 876.0L1367.0 876.3L1368.0 876.7L1369.0 877.8L1370.0 877.7L1371.0 878.5L1372.0 878.8L1373.0 879.6L1374.0 879.6L1375.0 880.3L1376.0 880.7L1377.0 881.5L1378.0 882.0L1379.0 882.7L1380.0 882.9L1381.0 882.5L1382.0 883.7L1383.0 884.1L1384.0 884.5L1385.0 884.0L1386.0 884.7L1387.0 884.5L1388.0 885.3L1389.0 885.7L1390.0 886.2L1391.0 886.0L1392.0 886.4L1393.0 886.3L1394.0 886.4L1395.0 887.1L1396.0 887.1L1397.0 888.1L1398.0 887.9L1399.0 888.4L1400.0 888.3L1401.0 889.0L1402.0 890.0L1403.0 889.5L1404.0 890.3L1405.0 891.0L1406.0 891.6L1407.0 891.7L1408.0 891.3L1409.0 892.6L1410.0 893.1L1411.0 893.6L1412.0 894.0L1413.0 894.3L1414.0 894.9L1415.0 895.0L1416.0 895.0L1417.0 895.8L1418.0 896.6L1419.0 897.3L1420.0 898.4L1421.0 898.3L1422.0 899.0L1423.0 900.0L1424.0 900.0L1425.0 900.8L1426.0 901.2L1427.0 902.2L1428.0 902.4L1429.0 903.6L1430.0 904.0L1431.0 904.3L1432.0 905.0L1433.0 906.0L1434.0 906.3L1435.0 907.6L1436.0 908.2L1437.0 908.1L1438.0 909.1L1439.0 909.1L1440.0 909.6L1441.0 911.0L1442.0 911.7L1443.0 911.5L1444.0 912.2L1445.0 913.2L1446.0 913.2L1447.0 913.9L1448.0 914.9L1449.0 915.5L1450.0 915.9L1451.0 916.9L1452.0 917.3L1453.0 918.2L1454.0 919.3L1455.0 919.8L1456.0 920.3L1457.0 921.1L1458.0 922.4L1459.0 923.1L1460.0 923.7L1461.0 924.3L1462.0 924.6L1463.0 925.4L1464.0 925.6L1465.0 927.3L1466.0 927.0L1467.0 927.5L1468.0 928.8L1469.0 928.8L1470.0 930.2L1471.0 930.3L1472.0 931.5L1473.0 931.9L1474.0 932.0L1475.0 933.0L1476.0 933.8L1477.0 933.6L1478.0 934.4L1479.0 935.3L1480.0 936.1L1481.0 936.4L1482.0 937.0L1483.0 937.9L1484.0 937.9L1485.0 938.5L1486.0 939.3L1487.0 940.4L1488.0 940.3L1489.0 940.4L1490.0 941.1L1491.0 941.9L1492.0 943.0L1493.0 943.1L1494.0 943.4L1495.0 943.6L1496.0 944.2L1497.0 945.3L1498.0 945.9L1499.0 945.6L1500.0 946.4L1501.0 946.9L1502.0 947.4L1503.0 947.3L1504.0 947.7L1505.0 948.3L1506.0 948.9L1507.0 949.0L1508.0 949.2L1509.0 950.7L1510.0 950.5L1511.0 951.0L1512.0 951.2L1513.0 952.3L1514.0 952.4L1515.0 952.9L1516.0 952.5L1517.0 953.5L1518.0 953.4L1519.0 953.4L1520.0 954.1L1521.0 953.7L1522.0 954.9L1523.0 954.2L1524.0 955.1L1525.0 954.9L1526.0 954.7L1527.0 955.6L1528.0 954.9L1529.0 955.9L1530.0 955.3L1531.0 955.4L1532.0 955.2L1533.0 955.4L1534.0 956.4L1535.0 956.3L1536.0 956.0L1537.0 956.4L1538.0 955.8L1539.0 955.9L1540.0 955.8L1541.0 955.7L1542.0 955.8L1543.0 955.7L1544.0 955.9L1545.0 955.9L1546.0 955.3L1547.0 955.3L1548.0 955.4L1549.0 954.8L1550.0 954.6L1551.0 954.6L1552.0 955.4L1553.0 954.7L1554.0 954.6L1555.0 955.4L1556.0 955.3L1557.0 955.1L1558.0 954.7L1559.0 955.6L1560.0 954.9L1561.0 954.8L1562.0 955.6L1563.0 955.0L1564.0 956.0L1565.0 955.9L1566.0 955.5L1567.0 956.0L1568.0 955.4L1569.0 956.1L1570.0 955.9L1571.0 955.9L1572.0 956.7L1573.0 957.1L1574.0 956.8L1575.0 957.4L1576.0 957.1L1577.0 957.3L1578.0 958.0L1579.0 958.2L1580.0 957.7L1581.0 958.2L1582.0 959.0L1583.0 959.1L1584.0 959.0L1585.0 959.6L1586.0 960.6L1587.0 959.9L1588.0 960.1L1589.0 960.5L1590.0 961.5L1591.0 962.4L1592.0 962.8L1593.0 962.7L1594.0 962.6L1595.0 963.0L1596.0 964.3L1597.0 964.6L1598.0 964.8L1599.0 965.7L1600.0 965.6L1601.0 966.2L1602.0 966.3L1603.0 966.2L1604.0 967.7L1605.0 967.6L1606.0 967.5L1607.0 968.7L1608.0 968.3L1609.0 968.9L1610.0 969.9L1611.0 970.1L1612.0 970.8L1613.0 971.1L1614.0 970.9L1615.0 971.3L1616.0 971.4L1617.0 972.6L1618.0 973.1L1619.0 973.0L1620.0 973.9L1621.0 974.6L1622.0 974.6L1623.0 974.9L1624.0 975.6L1625.0 975.9L1626.0 976.2L1627.0 976.9L1628.0 977.8L1629.0 977.7L1630.0 978.0L1631.0 979.5L1632.0 979.1L1633.0 979.7L1634.0 980.3L1635.0 981.6L1636.0 981.6L1637.0 982.4L1638.0 982.7L1639.0 983.3L1640.0 982.8L1641.0 983.3L1642.0 984.4L1643.0 985.0L1644.0 985.4L1645.0 985.4L1646.0 985.8L1647.0 986.8L1648.0 987.1L1649.0 987.0L1650.0 987.8L1651.0 987.5L1652.0 988.7L1653.0 988.5L1654.0 988.8L1655.0 989.7L1656.0 990.0L1657.0 990.5L1658.0 990.5L1659.0 991.6" stroke="#ff0000" stroke-width="9.5"/>
<path d="M146.0 1014.9L147.0 1016.5L148.0 1015.1L149.0 1016.4L150.0 1015.2L151.0 1013.3L152.0 1013.0L153.0 1012.2L154.0 1009.9L155.0 1011.2L156.0 1011.5L157.0 1011.1L158.0 1012.2L159.0 1011.7L160.0 1010.6L161.0 1010.2L162.0 1009.9L163.0 1011.9L164.0 1011.5L165.0 1011.3L166.0 1010.8L167.0 1010.9L168.0 1010.1L169.0 1011.0L170.0 1009.9L171.0 1011.3L172.0 1011.3L173.0 1011.4L174.0 1010.2L175.0 1009.7L176.0 1010.4L177.0 1011.5L178.0 1011.0L179.0 1011.7L180.0 1010.7L181.0 1010.6L182.0 1012.2L183.0 1009.9L184.0 1010.1L185.0 1011.2L186.0 1011.4L187.0 1010.8L188.0 1011.1L189.0 1010.8L190.0 1011.5L191.0 1012.1L192.0 1012.0L193.0 1011.4L194.0 1010.9L195.0 1012.3L196.0 1010.8L197.0 1011.4L198.0 1012.1L199.0 1011.5L200.0 1010.7L201.0 1011.7L202.0 1011.3L203.0 1012.2L204.0 1011.4L205.0 1011.1L206.0 1012.4L207.0 1011.1L208.0 1010.7L209.0 1012.3L210.0 1012.3L211.0 1010.0L212.0 1009.7L213.0 1012.1L214.0 1012.2L215.0 1010.7L216.0 1010.3L217.0 1011.6L218.0 1012.3L219.0 1010.2L220.0 1010.9L221.0 1011.5L222.0 1010.2L223.0 1010.8L224.0 1010.0L225.0 1011.0L226.0 1010.2L227.0 1009.8L228.0 1010.7L229.0 1010.0L230.0 1009.9L231.0 1010.0L232.0 1010.8L233.0 1010.5L234.0 1011.7L235.0 1010.8L236.0 1010.3L237.0 1010.1L238.0 1010.4L239.0 1011.8L240.0 1010.1L241.0 1010.9L242.0 1011.9L243.0 1012.0L244.0 1010.9L245.0 1012.0L246.0 1011.4L247.0 1010.2L248.0 1009.8L249.0 1010.0L250.0 1011.8L251.0 1010.6L252.0 1012.0L253.0 1012.3L254.0 1012.2L255.0 1010.8L256.0 1009.4L257.0 1010.2L258.0 1010.0L259.0 1011.3L260.0 1011.4L261.0 1012.1L262.0 1011.4L263.0 1012.1L264.0 1011.1L265.0 1010.6L266.0 1011.7L267.0 1009.9L268.0 1011.4L269.0 1011.2L270.0 1011.6L271.0 1009.1L272.0 1009.5L273.0 1011.7L274.0 1009.2L275.0 1010.1L276.0 1010.5L277.0 1010.0L278.0 1011.1L279.0 1011.2L280.0 1009.3L281.0 1008.5L282.0 1010.7L283.0 1009.2L284.0 1008.5L285.0 1008.0L286.0 1007.4L287.0 1009.0L288.0 1007.9L289.0 1008.5L290.0 1009.4L291.0 1007.9L292.0 1009.1L293.0 1006.2L294.0 1008.0L295.0 1007.8L296.0 1008.1L297.0 1005.1L298.0 1006.2L299.0 1006.1L300.0 1006.0L301.0 1005.3L302.0 1004.4L303.0 1006.0L304.0 1005.7L305.0 1004.9L306.0 1005.4L307.0 1003.9L308.0 1002.3L309.0 1003.9L310.0 1001.9L311.0 1003.6L312.0 1003.0L313.0 1001.4L314.0 1001.0L315.0 1000.5L316.0 1000.5L317.0 1002.7L318.0 1000.1L319.0 1001.8L320.0 999.3L321.0 999.6L322.0 999.7L323.0 999.0L324.0 1000.5L325.0 998.0L326.0 998.5L327.0 997.3L328.0 996.7L329.0 998.1L330.0 996.8L331.0 996.9L332.0 997.2L333.0 995.1L334.0 994.6L335.0 996.2L336.0 996.8L337.0 993.6L338.0 994.6L339.0 995.9L340.0 995.0L341.0 995.2L342.0 993.4L343.0 994.4L344.0 991.3L345.0 992.2L346.0 992.9L347.0 991.2L348.0 990.9L349.0 990.6L350.0 990.0L351.0 990.9L352.0 991.0L353.0 988.4L354.0 988.3L355.0 989.3L356.0 988.7L357.0 988.5L358.0 987.6L359.0 987.8L360.0 987.1L361.0 985.9L362.0 984.3L363.0 983.0L364.0 984.6L365.0 983.7L366.0 982.8L367.0 979.7L368.0 979.7L369.0 978.9L370.0 975.3L371.0 973.6L372.0 972.9L373.0 972.0L374.0 972.3L375.0 971.6L376.0 970.5L377.0 969.0L378.0 968.8L379.0 967.7L380.0 965.0L381.0 965.3L382.0 963.5L383.0 960.9L384.0 960.8L385.0 958.4L386.0 957.9L387.0 957.9L388.0 954.4L389.0 954.8L390.0 953.3L391.0 951.7L392.0 949.9L393.0 950.1L394.0 948.4L395.0 946.5L396.0 946.3L397.0 946.0L398.0 943.0L399.0 944.0L400.0 940.8L401.0 940.9L402.0 939.5L403.0 939.8L404.0 938.7L405.0 937.1L406.0 934.5L407.0 933.3L408.0 933.5L409.0 931.2L410.0 930.1L411.0 929.0L412.0 925.9L413.0 925.1L414.0 925.3L415.0 922.0L416.0 922.1L417.0 918.7L418.0 916.9L419.0 916.9L420.0 914.9L421.0 914.5L422.0 913.6L423.0 910.1L424.0 910.1L425.0 908.4L426.0 908.6L427.0 907.1L428.0 905.9L429.0 904.1L430.0 901.6L431.0 901.1L432.0 899.7L433.0 898.0L434.0 896.6L435.0 896.5L436.0 896.1L437.0 892.9L438.0 892.0L439.0 890.1L440.0 889.3L441.0 887.9L442.0 885.5L443.0 885.4L444.0 882.7L445.0 882.1L446.0 878.4L447.0 877.7L448.0 876.2L449.0 871.5L450.0 869.8L451.0 869.2L452.0 865.2L453.0 862.6L454.0 859.8L455.0 859.6L456.0 855.8L457.0 855.2L458.0 851.8L459.0 848.3L460.0 848.3L461.0 845.8L462.0 843.1L463.0 840.6L464.0 839.1L465.0 837.9L466.0 833.9L467.0 832.5L468.0 832.6L469.0 830.1L470.0 830.5L471.0 828.7L472.0 826.4L473.0 824.0L474.0 824.0L475.0 822.6L476.0 821.2L477.0 820.3L478.0 817.9L479.0 817.5L480.0 814.8L481.0 811.5L482.0 811.3L483.0 807.0L484.0 806.7L485.0 804.3L486.0 799.9L487.0 797.8L488.0 797.3L489.0 794.6L490.0 792.4L491.0 791.7L492.0 788.5L493.0 786.0L494.0 785.4L495.0 784.6L496.0 782.9L497.0 778.4L498.0 778.4L499.0 775.1L500.0 775.1L501.0 771.4L502.0 768.8L503.0 767.8L504.0 766.7L505.0 764.2L506.0 764.6L507.0 762.0L508.0 761.9L509.0 759.2L510.0 758.7L511.0 758.0L512.0 755.5L513.0 754.6L514.0 755.1L515.0 752.6L516.0 751.3L517.0 751.0L518.0 750.1L519.0 749.5L520.0 747.5L521.0 747.7L522.0 747.2L523.0 746.4L524.0 745.4L525.0 743.7L526.0 742.7L527.0 740.7L528.0 738.8L529.0 740.3L530.0 737.7L531.0 736.5L532.0 736.1L533.0 735.7L534.0 735.0L535.0 731.9L536.0 733.0L537.0 732.5L538.0 731.8L539.0 730.8L540.0 728.8L541.0 728.9L542.0 727.1L543.0 727.0L544.0 726.5L545.0 723.8L546.0 722.1L547.0 723.1L548.0 722.7L549.0 721.7L550.0 719.4L551.0 718.4L552.0 716.5L553.0 717.8L554.0 715.2L555.0 713.9L556.0 713.0L557.0 714.8L558.0 712.5L559.0 713.0L560.0 710.2L561.0 710.8L562.0 711.0L563.0 710.5L564.0 708.2L565.0 708.6L566.0 709.0L567.0 708.7L568.0 705.7L569.0 706.6L570.0 706.8L571.0 705.4L572.0 705.3L573.0 703.2L574.0 703.1L575.0 701.1L576.0 702.8L577.0 701.5L578.0 699.8L579.0 701.5L580.0 698.7L581.0 697.7L582.0 699.2L583.0 696.7L584.0 697.8L585.0 695.7L586.0 694.9L587.0 696.5L588.0 695.7L589.0 695.5L590.0 695.2L591.0 695.0L592.0 693.1L593.0 693.7L594.0 694.0L595.0 694.8L596.0 694.0L597.0 693.5L598.0 694.5L599.0 694.5L600.0 692.7L601.0 692.4L602.0 691.8L603.0 694.3L604.0 692.3L605.0 693.3L606.0 693.1L607.0 693.5L608.0 694.3L609.0 693.4L610.0 691.8L611.0 692.4L612.0 691.5L613.0 691.8L614.0 692.6L615.0 692.0L616.0 691.5L617.0 691.8L618.0 691.8L619.0 689.0L620.0 689.8L621.0 689.1L622.0 686.7L623.0 689.0L624.0 686.6L625.0 686.8L626.0 684.7L627.0 684.6L628.0 682.8L629.0 684.6L630.0 680.9L631.0 680.2L632.0 681.3L633.0 680.0L634.0 678.4L635.0 679.5L636.0 678.0L637.0 676.5L638.0 676.5L639.0 676.4L640.0 675.4L641.0 673.0L642.0 673.5L643.0 671.1L644.0 670.8L645.0 672.0L646.0 670.7L647.0 669.1L648.0 669.1L649.0 668.5L650.0 669.1L651.0 668.5L652.0 668.3L653.0 668.3L654.0 669.8L655.0 669.8L656.0 668.3L657.0 669.0L658.0 670.7L659.0 670.3L660.0 670.1L661.0 670.3L662.0 669.0L663.0 670.1L664.0 670.7L665.0 669.7L666.0 669.6L667.0 669.6L668.0 670.1L669.0 668.8L670.0 670.6L671.0 668.2L672.0 670.2L673.0 669.3L674.0 668.4L675.0 668.2L676.0 668.1L677.0 667.6L678.0 669.9L679.0 667.5L680.0 666.7L681.0 668.2L682.0 668.9L683.0 666.6L684.0 666.2L685.0 667.0L686.0 666.0L687.0 666.1L688.0 666.2L689.0 667.2L690.0 665.1L691.0 664.7L692.0 665.4L693.0 664.7L694.0 665.3L695.0 663.6L696.0 663.8L697.0 663.0L698.0 662.8L699.0 661.9L700.0 660.4L701.0 659.7L702.0 660.0L703.0 661.4L704.0 659.4L705.0 659.0L706.0 658.6L707.0 659.4L708.0 658.0L709.0 658.0L710.0 657.9L711.0 658.6L712.0 658.4L713.0 658.9L714.0 660.1L715.0 658.5L716.0 659.6L717.0 660.9L718.0 660.4L719.0 661.0L720.0 661.3L721.0 659.9L722.0 661.6L723.0 661.2L724.0 661.8L725.0 661.6L726.0 664.0L727.0 664.8L728.0 665.0L729.0 663.9L730.0 665.6L731.0 665.4L732.0 665.0L733.0 665.7L734.0 665.7L735.0 663.4L736.0 665.3L737.0 665.3L738.0 664.3L739.0 665.5L740.0 665.1L741.0 662.9L742.0 663.4L743.0 661.9L744.0 662.5L745.0 661.2L746.0 660.3L747.0 660.5L748.0 661.1L749.0 658.8L750.0 660.4L751.0 657.3L752.0 658.4L753.0 655.8L754.0 656.7L755.0 654.7L756.0 654.6L757.0 652.4L758.0 650.8L759.0 651.5L760.0 647.8L761.0 647.0L762.0 645.9L763.0 646.0L764.0 645.5L765.0 642.7L766.0 642.5L767.0 642.0L768.0 638.1L769.0 639.1L770.0 635.9L771.0 634.4L772.0 634.7L773.0 633.4L774.0 632.6L775.0 632.7L776.0 630.3L777.0 631.7L778.0 630.1L779.0 632.3L780.0 630.8L781.0 630.0L782.0 630.9L783.0 630.6L784.0 629.6L785.0 631.6L786.0 630.6L787.0 631.7L788.0 631.4L789.0 631.5L790.0 631.8L791.0 629.7L792.0 630.5L793.0 630.4L794.0 630.5L795.0 630.9L796.0 630.9L797.0 630.6L798.0 630.6L799.0 630.5L800.0 629.4L801.0 630.0L802.0 629.8L803.0 631.5L804.0 631.9L805.0 631.0L806.0 631.8L807.0 633.6L808.0 631.7L809.0 633.1L810.0 633.2L811.0 633.2L812.0 632.7L813.0 634.7L814.0 633.5L815.0 633.3L816.0 632.0L817.0 631.7L818.0 632.9L819.0 632.0L820.0 633.1L821.0 632.8L822.0 630.5L823.0 631.1L824.0 630.4L825.0 630.9L826.0 630.1L827.0 630.3L828.0 627.2L829.0 627.8L830.0 627.8L831.0 625.3L832.0 624.2L833.0 624.7L834.0 623.4L835.0 622.1L836.0 623.9L837.0 622.8L838.0 621.9L839.0 621.7L840.0 620.6L841.0 619.0L842.0 619.2L843.0 619.1L844.0 618.4L845.0 617.6L846.0 616.8L847.0 616.7L848.0 616.0L849.0 614.5L850.0 613.4L851.0 613.6L852.0 614.0L853.0 610.9L854.0 611.4L855.0 610.1L856.0 609.7L857.0 610.7L858.0 609.3L859.0 608.7L860.0 609.9L861.0 609.6L862.0 609.2L863.0 607.6L864.0 607.8L865.0 609.0L866.0 607.5L867.0 607.7L868.0 608.4L869.0 610.4L870.0 610.0L871.0 610.6L872.0 610.6L873.0 608.9L874.0 611.1L875.0 611.4L876.0 612.6L877.0 610.5L878.0 611.3L879.0 611.6L880.0 613.0L881.0 613.4L882.0 613.8L883.0 616.0L884.0 617.2L885.0 617.9L886.0 616.1L887.0 617.0L888.0 618.5L889.0 620.1L890.0 620.6L891.0 621.3L892.0 619.6L893.0 621.3L894.0 620.2L895.0 622.4L896.0 623.1L897.0 621.9L898.0 622.3L899.0 621.5L900.0 624.1L901.0 622.6L902.0 622.4L903.0 622.8L904.0 622.1L905.0 624.5L906.0 624.3L907.0 622.9L908.0 622.3L909.0 622.4L910.0 623.4L911.0 620.4L912.0 620.6L913.0 621.5L914.0 619.9L915.0 619.8L916.0 617.9L917.0 618.1L918.0 618.7L919.0 617.1L920.0 615.9L921.0 615.8L922.0 612.9L923.0 613.6L924.0 613.6L925.0 611.0L926.0 609.2L927.0 610.2L928.0 610.3L929.0 607.2L930.0 606.9L931.0 607.5L932.0 606.3L933.0 607.0L934.0 605.0L935.0 603.9L936.0 603.4L937.0 603.3L938.0 603.7L939.0 603.2L940.0 601.8L941.0 601.2L942.0 601.6L943.0 599.9L944.0 600.5L945.0 599.9L946.0 598.7L947.0 600.5L948.0 598.6L949.0 599.2L950.0 600.1L951.0 601.0L952.0 600.5L953.0 601.6L954.0 599.0L955.0 601.6L956.0 601.7L957.0 601.9L958.0 603.0L959.0 600.7L960.0 601.0L961.0 604.0L962.0 604.1L963.0 602.1L964.0 603.4L965.0 605.0L966.0 604.5L967.0 603.2L968.0 604.1L969.0 606.4L970.0 604.8L971.0 605.7L972.0 607.8L973.0 606.4L974.0 608.2L975.0 607.6L976.0 608.3L977.0 610.1L978.0 611.5L979.0 611.1L980.0 611.4L981.0 613.5L982.0 614.3L983.0 612.9L984.0 615.6L985.0 615.9L986.0 618.0L987.0 617.5L988.0 618.3L989.0 617.4L990.0 619.3L991.0 618.7L992.0 619.8L993.0 621.5L994.0 623.3L995.0 624.3L996.0 624.6L997.0 624.3L998.0 624.9L999.0 626.3L1000.0 626.0L1001.0 625.8L1002.0 628.6L1003.0 629.9L1004.0 630.4L1005.0 630.4L1006.0 631.5L1007.0 630.3L1008.0 631.0L1009.0 633.4L1010.0 632.9L1011.0 632.6L1012.0 634.3L1013.0 635.0L1014.0 636.0L1015.0 634.2L1016.0 635.2L1017.0 636.3L1018.0 637.7L1019.0 638.6L1020.0 636.4L1021.0 637.4L1022.0 638.1L1023.0 640.0L1024.0 639.5L1025.0 638.9L1026.0 640.1L1027.0 639.3L1028.0 641.7L1029.0 640.8L1030.0 641.7L1031.0 642.8L1032.0 642.4L1033.0 641.5L1034.0 642.8L1035.0 642.3L1036.0 644.0L1037.0 646.2L1038.0 646.0L1039.0 647.3L1040.0 645.4L1041.0 647.7L1042.0 648.7L1043.0 648.4L1044.0 650.3L1045.0 648.9L1046.0 652.2L1047.0 653.2L1048.0 651.8L1049.0 652.3L1050.0 655.7L1051.0 655.8L1052.0 658.0L1053.0 657.7L1054.0 657.8L1055.0 659.0L1056.0 661.4L1057.0 661.6L1058.0 664.7L1059.0 665.3L1060.0 665.9L1061.0 668.0L1062.0 668.9L1063.0 668.8L1064.0 670.6L1065.0 671.1L1066.0 671.1L1067.0 672.3L1068.0 673.9L1069.0 674.2L1070.0 677.8L1071.0 677.7L1072.0 678.0L1073.0 678.5L1074.0 681.3L1075.0 681.6L1076.0 683.9L1077.0 684.2L1078.0 683.7L1079.0 687.3L1080.0 688.1L1081.0 687.5L1082.0 689.8L1083.0 690.3L1084.0 689.7L1085.0 691.0L1086.0 692.2L1087.0 693.8L1088.0 694.5L1089.0 695.5L1090.0 694.7L1091.0 696.6L1092.0 696.7L1093.0 698.2L1094.0 700.9L1095.0 698.9L1096.0 699.4L1097.0 701.4L1098.0 702.0L1099.0 701.9L1100.0 704.9L1101.0 705.4L1102.0 706.1L1103.0 706.2L1104.0 706.5L1105.0 707.3L1106.0 706.7L1107.0 706.9L1108.0 710.3L1109.0 710.7L1110.0 709.4L1111.0 710.7L1112.0 710.0L1113.0 712.7L1114.0 713.4L1115.0 714.1L1116.0 711.9L1117.0 715.0L1118.0 712.8L1119.0 715.2L1120.0 716.3L1121.0 714.5L1122.0 716.3L1123.0 717.5L1124.0 718.1L1125.0 718.9L1126.0 719.2L1127.0 719.5L1128.0 720.3L1129.0 721.8L1130.0 722.6L1131.0 723.1L1132.0 724.5L1133.0 723.5L1134.0 724.4L1135.0 725.3L1136.0 725.6L1137.0 727.7L1138.0 726.3L1139.0 729.8L1140.0 728.2L1141.0 730.4L1142.0 731.3L1143.0 730.6L1144.0 730.6L1145.0 734.1L1146.0 734.6L1147.0 734.1L1148.0 734.0L1149.0 735.4L1150.0 736.4L1151.0 735.6L1152.0 737.8L1153.0 738.7L1154.0 738.0L1155.0 739.1L1156.0 739.9L1157.0 740.4L1158.0 741.6L1159.0 741.4L1160.0 742.8L1161.0 745.2L1162.0 745.4L1163.0 745.6L1164.0 745.4L1165.0 746.9L1166.0 748.9L1167.0 749.0L1168.0 750.7L1169.0 751.3L1170.0 751.6L1171.0 753.1L1172.0 753.4L1173.0 753.7L1174.0 756.6L1175.0 756.7L1176.0 756.6L1177.0 756.4L1178.0 758.7L1179.0 759.3L1180.0 761.9L1181.0 763.2L1182.0 763.6L1183.0 762.6L1184.0 765.6L1185.0 765.3L1186.0 767.5L1187.0 769.4L1188.0 768.3L1189.0 772.1L1190.0 772.8L1191.0 772.6L1192.0 773.9L1193.0 774.4L1194.0 776.9L1195.0 778.3L1196.0 777.8L1197.0 779.8L1198.0 778.7L1199.0 779.8L1200.0 783.2L1201.0 781.9L1202.0 784.6L1203.0 785.6L1204.0 784.6L1205.0 788.0L1206.0 788.1L1207.0 788.9L1208.0 790.6L1209.0 790.7L1210.0 793.1L1211.0 793.2L1212.0 794.8L1213.0 794.7L1214.0 795.6L1215.0 796.4L1216.0 796.9L1217.0 799.9L1218.0 800.0L1219.0 802.0L1220.0 802.1L1221.0 803.4L1222.0 803.7L1223.0 804.4L1224.0 806.4L1225.0 805.1L1226.0 807.5L1227.0 806.5L1228.0 807.8L1229.0 811.2L1230.0 809.1L1231.0 812.3L1232.0 813.7L1233.0 813.7L1234.0 815.3L1235.0 813.7L1236.0 816.3L1237.0 816.8L1238.0 817.3L1239.0 816.9L1240.0 817.7L1241.0 820.7L1242.0 819.7L1243.0 822.1L1244.0 821.3L1245.0 823.6L1246.0 822.7L1247.0 826.3L1248.0 826.4L1249.0 825.9L1250.0 829.0L1251.0 827.4L1252.0 829.2L1253.0 830.4L1254.0 830.0L1255.0 832.6L1256.0 832.2L1257.0 834.8L1258.0 836.2L1259.0 837.1L1260.0 835.6L1261.0 837.7L1262.0 839.4L1263.0 838.4L1264.0 839.4L1265.0 842.7L1266.0 843.6L1267.0 843.1L1268.0 845.8L1269.0 847.0L1270.0 846.5L1271.0 848.3L1272.0 850.0L1273.0 848.9L1274.0 851.8L1275.0 853.6L1276.0 854.6L1277.0 855.7L1278.0 856.1L1279.0 857.5L1280.0 856.8L1281.0 857.5L1282.0 860.0L1283.0 859.3L1284.0 860.4L1285.0 862.4L1286.0 862.8L1287.0 865.3L1288.0 863.9L1289.0 865.5L1290.0 868.1L1291.0 867.2L1292.0 869.4L1293.0 869.7L1294.0 871.9L1295.0 870.4L1296.0 872.3L1297.0 872.6L1298.0 874.6L1299.0 876.2L1300.0 876.2L1301.0 877.8L1302.0 878.2L1303.0 877.9L1304.0 878.0L1305.0 878.1L1306.0 879.8L1307.0 880.4L1308.0 881.9L1309.0 883.7L1310.0 883.1L1311.0 882.7L1312.0 885.3L1313.0 884.5L1314.0 886.1L1315.0 886.7L1316.0 887.3L1317.0 886.2L1318.0 886.8L1319.0 889.3L1320.0 889.0L1321.0 890.1L1322.0 891.3L1323.0 890.1L1324.0 890.8L1325.0 892.2L1326.0 891.0L1327.0 892.4L1328.0 891.5L1329.0 893.9L1330.0 892.8L1331.0 893.0L1332.0 894.2L1333.0 895.4L1334.0 895.4L1335.0 895.1L1336.0 894.5L1337.0 895.9L1338.0 895.0L1339.0 896.8L1340.0 896.1L1341.0 898.2L1342.0 899.2L1343.0 898.0L1344.0 900.2L1345.0 899.5L1346.0 899.4L1347.0 900.2L1348.0 901.3L1349.0 901.6L1350.0 902.5L1351.0 903.0L1352.0 901.2L1353.0 903.8L1354.0 904.3L1355.0 903.2L1356.0 904.6L1357.0 904.5L1358.0 904.7L1359.0 905.5L1360.0 907.6L1361.0 906.3L1362.0 905.8L1363.0 908.7L1364.0 907.4L1365.0 907.3L1366.0 908.3L1367.0 908.8L1368.0 910.4L1369.0 909.5L1370.0 912.4L1371.0 912.3L1372.0 913.6L1373.0 913.9L1374.0 914.3L1375.0 914.9L1376.0 913.5L1377.0 915.5L1378.0 914.5L1379.0 916.5L1380.0 914.1L1381.0 916.2L1382.0 916.0L1383.0 917.4L1384.0 915.6L1385.0 917.3L1386.0 916.4L1387.0 918.5L1388.0 917.3L1389.0 917.1L1390.0 918.6L1391.0 918.2L1392.0 918.3L1393.0 918.5L1394.0 918.4L1395.0 919.1L1396.0 919.4L1397.0 919.5L1398.0 917.7L1399.0 919.8L1400.0 921.1L1401.0 920.5L1402.0 920.4L1403.0 919.3L1404.0 920.7L1405.0 920.8L1406.0 920.3L1407.0 921.0L1408.0 921.3L1409.0 920.8L1410.0 922.5L1411.0 923.8L1412.0 923.6L1413.0 924.9L1414.0 925.2L1415.0 924.7L1416.0 923.7L1417.0 923.6L1418.0 925.7L1419.0 924.6L1420.0 926.7L1421.0 927.7L1422.0 926.6L1423.0 926.8L1424.0 927.0L1425.0 929.8L1426.0 928.6L1427.0 928.7L1428.0 929.8L1429.0 930.5L1430.0 930.2L1431.0 931.1L1432.0 930.0L1433.0 930.5L1434.0 931.3L1435.0 932.4L1436.0 932.4L1437.0 932.1L1438.0 932.6L1439.0 932.0L1440.0 934.2L1441.0 935.0L1442.0 934.9L1443.0 935.2L1444.0 934.1L1445.0 934.5L1446.0 935.2L1447.0 934.6L1448.0 934.6L1449.0 937.2L1450.0 936.6L1451.0 937.9L1452.0 937.8L1453.0 937.1L1454.0 936.7L1455.0 937.2L1456.0 938.2L1457.0 939.0L1458.0 938.2L1459.0 938.6L1460.0 938.6L1461.0 939.2L1462.0 939.5L1463.0 940.2L1464.0 939.2L1465.0 941.7L1466.0 942.1L1467.0 941.9L1468.0 942.7L1469.0 942.5L1470.0 942.7L1471.0 944.3L1472.0 944.8L1473.0 945.2L1474.0 945.8L1475.0 944.2L1476.0 944.7L1477.0 946.4L1478.0 945.6L1479.0 946.2L1480.0 946.5L1481.0 948.1L1482.0 946.9L1483.0 946.6L1484.0 949.7L1485.0 949.1L1486.0 950.5L1487.0 949.0L1488.0 948.7L1489.0 949.2L1490.0 951.0L1491.0 950.9L1492.0 950.8L1493.0 953.6L1494.0 954.1L1495.0 952.3L1496.0 954.5L1497.0 955.3L1498.0 954.6L1499.0 953.8L1500.0 953.7L1501.0 954.7L1502.0 954.2L1503.0 957.0L1504.0 956.5L1505.0 956.6L1506.0 957.7L1507.0 956.2L1508.0 955.9L1509.0 957.7L1510.0 956.4L1511.0 957.1L1512.0 958.8L1513.0 959.2L1514.0 957.4L1515.0 957.6L1516.0 958.2L1517.0 957.9L1518.0 957.2L1519.0 957.6L1520.0 958.8L1521.0 959.1L1522.0 960.8L1523.0 958.5L1524.0 958.8L1525.0 958.7L1526.0 959.7L1527.0 959.4L1528.0 961.0L1529.0 960.4L1530.0 962.4L1531.0 960.6L1532.0 961.4L1533.0 961.5L1534.0 962.6L1535.0 961.2L1536.0 960.8L1537.0 963.1L1538.0 961.6L1539.0 963.0L1540.0 963.2L1541.0 962.9L1542.0 963.2L1543.0 962.3L1544.0 964.1L1545.0 962.3L1546.0 964.4L1547.0 962.7L1548.0 963.7L1549.0 963.4L1550.0 962.8L1551.0 962.7L1552.0 963.7L1553.0 965.2L1554.0 963.8L1555.0 964.8L1556.0 965.2L1557.0 963.5L1558.0 964.4L1559.0 963.2L1560.0 965.6L1561.0 965.3L1562.0 963.7L1563.0 965.9L1564.0 965.5L1565.0 965.1L1566.0 965.3L1567.0 965.3L1568.0 966.2L1569.0 965.1L1570.0 965.1L1571.0 965.3L1572.0 964.7L1573.0 967.2L1574.0 965.5L1575.0 965.4L1576.0 966.4L1577.0 966.1L1578.0 968.1L1579.0 966.2L1580.0 968.3L1581.0 968.1L1582.0 966.5L1583.0 967.5L1584.0 969.3L1585.0 968.8L1586.0 968.7L1587.0 969.5L1588.0 970.5L1589.0 970.7L1590.0 969.1L1591.0 968.9L1592.0 970.6L1593.0 970.3L1594.0 971.6L1595.0 971.8L1596.0 971.8L1597.0 969.5L1598.0 970.6L1599.0 972.5L1600.0 972.9L1601.0 970.6L1602.0 970.5L1603.0 973.5L1604.0 971.2L1605.0 973.2L1606.0 973.9L1607.0 973.6L1608.0 972.9L1609.0 973.3L1610.0 972.7L1611.0 972.5L1612.0 972.6L1613.0 973.1L1614.0 975.7L1615.0 973.4L1616.0 976.0L1617.0 974.4L1618.0 975.7L1619.0 975.9L1620.0 974.6L1621.0 974.3L1622.0 975.0L1623.0 976.8L1624.0 976.1L1625.0 975.5L1626.0 976.2L1627.0 976.6L1628.0 978.3L1629.0 977.0L1630.0 977.8L1631.0 975.8L1632.0 978.6L1633.0 977.6L1634.0 977.2L1635.0 979.0L1636.0 977.0L1637.0 976.9L1638.0 979.5L1639.0 979.7L1640.0 977.9L1641.0 978.2L1642.0 979.5L1643.0 978.5L1644.0 979.3L1645.0 978.5L1646.0 980.8L1647.0 979.0L1648.0 980.0L1649.0 981.1L1650.0 981.3L1651.0 980.9L1652.0 979.8L1653.0 979.5L1654.0 981.1L1655.0 981.3L1656.0 981.9L1657.0 981.4L1658.0 981.9L1659.0 982.1" stroke="#008080" stroke-width="10"/>
<path d="M158.0 1012.7L159.0 1010.0L160.0 1011.5L161.0 1011.7L162.0 1008.9L163.0 1008.1L164.0 1011.1L165.0 1008.5L166.0 1010.0L167.0 1012.8L168.0 1012.8L169.0 1008.6L170.0 1008.4L171.0 1009.2L172.0 1012.7L173.0 1008.2L174.0 1009.3L175.0 1008.7L176.0 1008.8L177.0 1011.1L178.0 1009.2L179.0 1010.5L180.0 1012.3L181.0 1012.3L182.0 1010.6L183.0 1012.7L184.0 1011.5L185.0 1013.0L186.0 1009.8L187.0 1010.5L188.0 1011.7L189.0 1013.7L190.0 1011.9L191.0 1011.1L192.0 1009.9L193.0 1010.1L194.0 1009.8L195.0 1014.1L196.0 1013.5L197.0 1013.6L198.0 1011.6L199.0 1012.6L200.0 1010.3L201.0 1011.4L202.0 1009.5L203.0 1011.0L204.0 1010.1L205.0 1009.3L206.0 1013.9L207.0 1009.3L208.0 1013.3L209.0 1012.7L210.0 1009.3L211.0 1011.5L212.0 1014.3L213.0 1014.3L214.0 1011.9L215.0 1013.1L216.0 1012.8L217.0 1010.4L218.0 1011.9L219.0 1012.1L220.0 1011.0L221.0 1013.4L222.0 1011.3L223.0 1013.0L224.0 1009.2L225.0 1011.3L226.0 1009.0L227.0 1012.4L228.0 1013.7L229.0 1011.8L230.0 1011.9L231.0 1012.3L232.0 1010.1L233.0 1010.9L234.0 1012.0L235.0 1012.4L236.0 1010.9L237.0 1011.4L238.0 1010.6L239.0 1011.8L240.0 1012.5L241.0 1010.6L242.0 1012.6L243.0 1013.5L244.0 1011.7L245.0 1014.2L246.0 1010.4L247.0 1013.8L248.0 1009.7L249.0 1010.7L250.0 1013.2L251.0 1008.8L252.0 1012.1L253.0 1013.5L254.0 1013.9L255.0 1012.4L256.0 1010.5L257.0 1010.5L258.0 1012.1L259.0 1009.0L260.0 1008.7L261.0 1013.5L262.0 1012.1L263.0 1009.4L264.0 1010.9L265.0 1010.1L266.0 1013.3L267.0 1010.1L268.0 1012.5L269.0 1012.6L270.0 1010.2L271.0 1009.8L272.0 1011.3L273.0 1010.6L274.0 1011.7L275.0 1010.1L276.0 1012.7L277.0 1010.6L278.0 1009.0L279.0 1012.6L280.0 1013.2L281.0 1012.0L282.0 1011.2L283.0 1013.0L284.0 1013.3L285.0 1008.1L286.0 1010.8L287.0 1008.1L288.0 1009.9L289.0 1009.3L290.0 1010.5L291.0 1011.7L292.0 1012.7L293.0 1009.3L294.0 1007.9L295.0 1013.4L296.0 1012.1L297.0 1010.8L298.0 1008.3L299.0 1007.9L300.0 1012.8L301.0 1010.5L302.0 1012.4L303.0 1011.9L304.0 1011.7L305.0 1011.9L306.0 1008.8L307.0 1008.7L308.0 1009.7L309.0 1011.5L310.0 1011.6L311.0 1011.4L312.0 1010.3L313.0 1009.7L314.0 1008.1L315.0 1010.7L316.0 1010.5L317.0 1009.7L318.0 1010.8L319.0 1012.2L320.0 1011.9L321.0 1007.2L322.0 1008.1L323.0 1009.9L324.0 1010.2L325.0 1007.9L326.0 1011.4L327.0 1008.7L328.0 1010.3L329.0 1006.2L330.0 1007.4L331.0 1005.8L332.0 1010.1L333.0 1008.4L334.0 1010.8L335.0 1008.7L336.0 1007.0L337.0 1007.1L338.0 1007.1L339.0 1006.0L340.0 1005.4L341.0 1008.3L342.0 1006.3L343.0 1007.0L344.0 1008.3L345.0 1005.7L346.0 1006.4L347.0 1005.6L348.0 1005.4L349.0 1007.1L350.0 1003.8L351.0 1005.2L352.0 1003.3L353.0 1006.1L354.0 1003.7L355.0 1007.1L356.0 1004.1L357.0 1004.7L358.0 1003.5L359.0 1004.8L360.0 1003.7L361.0 1002.9L362.0 999.1L363.0 999.4L364.0 1002.4L365.0 1000.2L366.0 1003.0L367.0 1000.8L368.0 1001.5L369.0 1000.7L370.0 1001.7L371.0 999.6L372.0 1000.9L373.0 997.7L374.0 996.4L375.0 995.2L376.0 995.6L377.0 998.7L378.0 996.9L379.0 992.9L380.0 992.2L381.0 994.0L382.0 993.7L383.0 991.8L384.0 989.0L385.0 989.4L386.0 991.9L387.0 990.0L388.0 989.6L389.0 985.6L390.0 987.0L391.0 983.7L392.0 983.7L393.0 986.8L394.0 982.2L395.0 982.1L396.0 981.0L397.0 983.9L398.0 982.1L399.0 980.8L400.0 981.4L401.0 978.4L402.0 980.1L403.0 978.4L404.0 974.9L405.0 973.7L406.0 974.5L407.0 973.1L408.0 974.2L409.0 972.7L410.0 972.5L411.0 971.0L412.0 968.5L413.0 970.5L414.0 971.1L415.0 968.3L416.0 967.8L417.0 964.2L418.0 962.6L419.0 963.6L420.0 963.4L421.0 963.2L422.0 960.8L423.0 960.2L424.0 956.6L425.0 955.4L426.0 954.7L427.0 954.8L428.0 953.2L429.0 951.5L430.0 951.5L431.0 950.3L432.0 951.8L433.0 951.2L434.0 950.3L435.0 947.7L436.0 942.4L437.0 942.5L438.0 945.6L439.0 942.7L440.0 942.5L441.0 937.7L442.0 936.9L443.0 935.0L444.0 936.4L445.0 934.5L446.0 934.1L447.0 931.2L448.0 929.6L449.0 930.6L450.0 932.7L451.0 930.2L452.0 928.7L453.0 924.9L454.0 926.0L455.0 924.7L456.0 925.2L457.0 923.1L458.0 924.5L459.0 920.9L460.0 922.6L461.0 917.4L462.0 917.0L463.0 919.2L464.0 917.9L465.0 913.1L466.0 910.8L467.0 913.2L468.0 909.3L469.0 904.6L470.0 907.8L471.0 903.5L472.0 900.1L473.0 899.3L474.0 896.7L475.0 895.9L476.0 893.2L477.0 891.1L478.0 891.3L479.0 887.1L480.0 888.2L481.0 885.9L482.0 885.2L483.0 879.0L484.0 881.1L485.0 878.5L486.0 873.7L487.0 876.0L488.0 871.9L489.0 868.4L490.0 866.8L491.0 869.4L492.0 866.5L493.0 861.5L494.0 863.3L495.0 856.8L496.0 858.8L497.0 856.9L498.0 856.8L499.0 855.9L500.0 854.3L501.0 855.3L502.0 854.3L503.0 857.7L504.0 854.7L505.0 855.2L506.0 853.6L507.0 849.6L508.0 849.7L509.0 846.8L510.0 841.3L511.0 841.4L512.0 838.6L513.0 837.2L514.0 832.1L515.0 833.9L516.0 830.2L517.0 830.2L518.0 825.6L519.0 822.4L520.0 823.1L521.0 822.2L522.0 821.2L523.0 818.1L524.0 818.3L525.0 812.6L526.0 810.7L527.0 810.6L528.0 810.3L529.0 809.2L530.0 803.5L531.0 804.6L532.0 801.2L533.0 800.1L534.0 795.3L535.0 793.2L536.0 793.4L537.0 789.3L538.0 790.5L539.0 785.5L540.0 782.2L541.0 779.0L542.0 778.5L543.0 776.1L544.0 772.4L545.0 774.1L546.0 769.1L547.0 768.2L548.0 765.5L549.0 764.3L550.0 758.4L551.0 761.6L552.0 758.1L553.0 754.4L554.0 755.5L555.0 751.2L556.0 752.1L557.0 749.1L558.0 747.7L559.0 748.8L560.0 749.8L561.0 748.3L562.0 748.2L563.0 746.2L564.0 744.2L565.0 743.0L566.0 743.9L567.0 738.2L568.0 739.4L569.0 738.5L570.0 734.5L571.0 738.4L572.0 736.4L573.0 733.7L574.0 735.4L575.0 732.9L576.0 733.6L577.0 731.9L578.0 733.1L579.0 730.5L580.0 727.6L581.0 730.9L582.0 727.3L583.0 728.7L584.0 730.3L585.0 728.6L586.0 724.3L587.0 728.0L588.0 728.1L589.0 724.6L590.0 722.8L591.0 723.4L592.0 723.2L593.0 720.0L594.0 724.2L595.0 722.8L596.0 721.4L597.0 723.9L598.0 720.7L599.0 725.3L600.0 725.9L601.0 724.6L602.0 723.5L603.0 726.3L604.0 725.3L605.0 728.5L606.0 726.9L607.0 729.5L608.0 729.1L609.0 728.7L610.0 730.1L611.0 729.8L612.0 731.5L613.0 728.8L614.0 729.2L615.0 729.7L616.0 726.0L617.0 727.6L618.0 725.0L619.0 726.1L620.0 725.4L621.0 726.7L622.0 726.1L623.0 721.3L624.0 723.3L625.0 719.4L626.0 717.5L627.0 718.2L628.0 715.4L629.0 717.7L630.0 716.3L631.0 710.2L632.0 714.3L633.0 712.5L634.0 706.9L635.0 708.5L636.0 706.6L637.0 703.0L638.0 704.8L639.0 699.7L640.0 700.5L641.0 700.5L642.0 701.4L643.0 698.7L644.0 697.8L645.0 698.7L646.0 699.2L647.0 698.7L648.0 697.3L649.0 701.7L650.0 698.3L651.0 698.3L652.0 698.6L653.0 703.0L654.0 698.2L655.0 701.5L656.0 701.4L657.0 699.7L658.0 703.0L659.0 699.7L660.0 699.4L661.0 699.0L662.0 702.5L663.0 698.9L664.0 701.9L665.0 701.9L666.0 698.6L667.0 703.2L668.0 698.2L669.0 699.0L670.0 701.3L671.0 698.0L672.0 700.6L673.0 699.8L674.0 699.8L675.0 697.4L676.0 696.5L677.0 697.2L678.0 697.7L679.0 694.0L680.0 694.0L681.0 694.7L682.0 693.0L683.0 696.6L684.0 697.4L685.0 694.5L686.0 693.1L687.0 693.3L688.0 695.5L689.0 694.3L690.0 693.0L691.0 693.1L692.0 694.2L693.0 692.1L694.0 689.4L695.0 692.6L696.0 687.3L697.0 687.2L698.0 686.7L699.0 687.0L700.0 687.2L701.0 687.8L702.0 683.8L703.0 686.4L704.0 686.3L705.0 684.9L706.0 683.9L707.0 682.0L708.0 680.8L709.0 678.6L710.0 679.3L711.0 677.8L712.0 678.1L713.0 676.1L714.0 680.7L715.0 677.5L716.0 675.6L717.0 676.0L718.0 678.1L719.0 676.7L720.0 680.9L721.0 680.0L722.0 683.3L723.0 683.0L724.0 684.8L725.0 689.1L726.0 688.2L727.0 692.1L728.0 691.9L729.0 693.2L730.0 693.7L731.0 693.3L732.0 692.3L733.0 694.6L734.0 691.2L735.0 692.4L736.0 695.6L737.0 695.7L738.0 691.0L739.0 695.1L740.0 693.0L741.0 691.4L742.0 695.0L743.0 692.6L744.0 690.2L745.0 693.3L746.0 687.8L747.0 690.7L748.0 690.0L749.0 689.3L750.0 687.1L751.0 685.4L752.0 684.2L753.0 686.6L754.0 684.4L755.0 681.1L756.0 684.1L757.0 683.6L758.0 683.2L759.0 680.7L760.0 681.2L761.0 680.0L762.0 680.4L763.0 676.7L764.0 675.7L765.0 678.4L766.0 674.4L767.0 672.2L768.0 675.1L769.0 674.8L770.0 674.5L771.0 674.5L772.0 668.7L773.0 673.0L774.0 668.9L775.0 667.8L776.0 668.4L777.0 667.3L778.0 666.8L779.0 667.7L780.0 670.2L781.0 667.6L782.0 671.7L783.0 667.7L784.0 669.1L785.0 669.0L786.0 668.9L787.0 668.3L788.0 671.2L789.0 668.8L790.0 669.1L791.0 668.5L792.0 673.3L793.0 669.5L794.0 671.0L795.0 673.1L796.0 669.7L797.0 671.0L798.0 673.8L799.0 672.8L800.0 670.2L801.0 672.7L802.0 674.7L803.0 673.4L804.0 672.3L805.0 672.3L806.0 676.5L807.0 673.9L808.0 673.0L809.0 673.5L810.0 675.3L811.0 676.7L812.0 675.3L813.0 674.5L814.0 672.5L815.0 671.2L816.0 672.9L817.0 670.3L818.0 669.0L819.0 670.5L820.0 670.5L821.0 669.1L822.0 664.1L823.0 666.8L824.0 664.6L825.0 661.1L826.0 664.3L827.0 661.8L828.0 660.5L829.0 657.1L830.0 658.9L831.0 657.4L832.0 658.2L833.0 657.6L834.0 652.1L835.0 655.3L836.0 651.2L837.0 647.7L838.0 650.5L839.0 649.4L840.0 647.9L841.0 643.0L842.0 645.0L843.0 644.8L844.0 643.9L845.0 639.6L846.0 641.4L847.0 636.6L848.0 640.3L849.0 638.0L850.0 637.9L851.0 638.0L852.0 634.7L853.0 634.2L854.0 633.0L855.0 636.4L856.0 632.5L857.0 632.3L858.0 635.8L859.0 635.0L860.0 637.8L861.0 633.2L862.0 635.6L863.0 634.0L864.0 637.8L865.0 639.0L866.0 639.5L867.0 635.2L868.0 639.1L869.0 638.6L870.0 636.7L871.0 639.2L872.0 641.6L873.0 642.3L874.0 641.6L875.0 640.3L876.0 642.8L877.0 643.3L878.0 644.3L879.0 648.6L880.0 647.6L881.0 648.6L882.0 646.1L883.0 649.1L884.0 652.6L885.0 650.2L886.0 650.5L887.0 653.0L888.0 653.1L889.0 656.4L890.0 655.7L891.0 659.1L892.0 659.3L893.0 657.4L894.0 660.7L895.0 660.6L896.0 661.1L897.0 661.3L898.0 661.0L899.0 661.1L900.0 658.3L901.0 661.1L902.0 656.9L903.0 658.8L904.0 654.9L905.0 660.0L906.0 657.8L907.0 653.8L908.0 658.3L909.0 655.9L910.0 653.9L911.0 653.7L912.0 655.6L913.0 654.6L914.0 649.3L915.0 649.1L916.0 647.7L917.0 645.9L918.0 645.5L919.0 646.9L920.0 646.1L921.0 645.6L922.0 644.9L923.0 643.0L924.0 643.2L925.0 637.0L926.0 641.2L927.0 637.0L928.0 637.5L929.0 635.4L930.0 635.1L931.0 633.3L932.0 629.3L933.0 630.4L934.0 626.7L935.0 630.4L936.0 629.0L937.0 625.9L938.0 625.4L939.0 624.9L940.0 623.3L941.0 625.2L942.0 625.8L943.0 623.5L944.0 623.8L945.0 626.1L946.0 625.1L947.0 622.0L948.0 622.6L949.0 626.5L950.0 625.4L951.0 623.1L952.0 625.4L953.0 625.5L954.0 627.5L955.0 629.6L956.0 630.1L957.0 628.1L958.0 628.6L959.0 628.6L960.0 630.4L961.0 633.3L962.0 634.1L963.0 634.1L964.0 636.1L965.0 633.3L966.0 634.4L967.0 635.2L968.0 639.1L969.0 639.6L970.0 638.9L971.0 642.4L972.0 640.0L973.0 644.4L974.0 645.1L975.0 641.9L976.0 645.6L977.0 646.2L978.0 644.9L979.0 645.8L980.0 645.9L981.0 648.3L982.0 651.2L983.0 649.7L984.0 653.0L985.0 651.5L986.0 654.1L987.0 652.9L988.0 655.3L989.0 656.3L990.0 656.2L991.0 655.8L992.0 655.5L993.0 656.8L994.0 659.9L995.0 660.3L996.0 658.6L997.0 663.1L998.0 660.5L999.0 661.7L1000.0 666.8L1001.0 665.1L1002.0 665.9L1003.0 668.1L1004.0 668.0L1005.0 667.9L1006.0 672.2L1007.0 671.2L1008.0 670.9L1009.0 671.2L1010.0 672.6L1011.0 674.4L1012.0 672.5L1013.0 672.1L1014.0 671.8L1015.0 676.7L1016.0 677.7L1017.0 677.1L1018.0 676.3L1019.0 677.1L1020.0 677.4L1021.0 674.4L1022.0 676.1L1023.0 676.8L1024.0 676.1L1025.0 678.3L1026.0 680.8L1027.0 680.3L1028.0 678.3L1029.0 679.3L1030.0 682.3L1031.0 680.9L1032.0 679.8L1033.0 682.2L1034.0 680.2L1035.0 684.3L1036.0 682.6L1037.0 683.1L1038.0 686.2L1039.0 683.3L1040.0 685.8L1041.0 684.7L1042.0 686.8L1043.0 687.6L1044.0 692.1L1045.0 691.8L1046.0 689.8L1047.0 690.5L1048.0 691.7L1049.0 694.3L1050.0 696.6L1051.0 699.0L1052.0 697.7L1053.0 696.9L1054.0 697.6L1055.0 701.6L1056.0 703.3L1057.0 705.2L1058.0 702.5L1059.0 703.3L1060.0 704.6L1061.0 707.9L1062.0 710.6L1063.0 709.1L1064.0 709.5L1065.0 709.9L1066.0 712.9L1067.0 712.7L1068.0 715.8L1069.0 715.7L1070.0 717.5L1071.0 715.7L1072.0 718.8L1073.0 719.4L1074.0 721.0L1075.0 719.5L1076.0 719.5L1077.0 720.4L1078.0 723.5L1079.0 725.4L1080.0 724.1L1081.0 724.5L1082.0 724.8L1083.0 727.7L1084.0 724.8L1085.0 723.6L1086.0 725.9L1087.0 726.0L1088.0 726.0L1089.0 727.3L1090.0 729.7L1091.0 731.7L1092.0 726.6L1093.0 727.8L1094.0 728.7L1095.0 731.9L1096.0 729.8L1097.0 730.2L1098.0 731.9L1099.0 730.1L1100.0 732.1L1101.0 729.6L1102.0 731.2L1103.0 734.6L1104.0 732.8L1105.0 733.6L1106.0 731.7L1107.0 731.1L1108.0 735.1L1109.0 733.3L1110.0 732.7L1111.0 734.4L1112.0 735.8L1113.0 735.9L1114.0 733.5L1115.0 737.7L1116.0 735.3L1117.0 735.4L1118.0 734.6L1119.0 739.9L1120.0 738.2L1121.0 738.8L1122.0 741.6L1123.0 737.5L1124.0 739.5L1125.0 739.1L1126.0 742.3L1127.0 740.6L1128.0 746.6L1129.0 745.2L1130.0 747.9L1131.0 749.1L1132.0 750.4L1133.0 747.9L1134.0 750.7L1135.0 751.6L1136.0 754.1L1137.0 751.3L1138.0 754.2L1139.0 755.9L1140.0 755.3L1141.0 753.5L1142.0 758.4L1143.0 755.0L1144.0 758.0L1145.0 758.1L1146.0 759.7L1147.0 763.1L1148.0 764.3L1149.0 764.7L1150.0 765.2L1151.0 761.5L1152.0 765.4L1153.0 766.0L1154.0 767.4L1155.0 766.9L1156.0 769.7L1157.0 766.3L1158.0 771.3L1159.0 772.4L1160.0 770.9L1161.0 772.0L1162.0 769.9L1163.0 774.9L1164.0 775.6L1165.0 772.2L1166.0 775.1L1167.0 773.9L1168.0 779.2L1169.0 778.5L1170.0 779.8L1171.0 778.7L1172.0 780.8L1173.0 778.2L1174.0 780.2L1175.0 781.6L1176.0 783.7L1177.0 781.4L1178.0 780.3L1179.0 783.5L1180.0 782.9L1181.0 783.5L1182.0 784.3L1183.0 788.8L1184.0 787.1L1185.0 787.4L1186.0 788.1L1187.0 790.4L1188.0 790.8L1189.0 792.4L1190.0 793.9L1191.0 795.0L1192.0 793.1L1193.0 794.7L1194.0 797.2L1195.0 797.5L1196.0 794.9L1197.0 797.7L1198.0 797.8L1199.0 799.8L1200.0 798.5L1201.0 801.4L1202.0 801.7L1203.0 802.8L1204.0 803.9L1205.0 802.8L1206.0 803.1L1207.0 802.9L1208.0 806.8L1209.0 808.8L1210.0 805.9L1211.0 807.5L1212.0 807.0L1213.0 811.7L1214.0 811.4L1215.0 813.6L1216.0 811.7L1217.0 811.1L1218.0 813.2L1219.0 812.8L1220.0 813.7L1221.0 816.6L1222.0 816.0L1223.0 814.8L1224.0 816.4L1225.0 819.9L1226.0 819.6L1227.0 821.8L1228.0 822.3L1229.0 819.1L1230.0 821.5L1231.0 824.6L1232.0 823.7L1233.0 825.1L1234.0 827.5L1235.0 825.8L1236.0 825.5L1237.0 827.1L1238.0 829.0L1239.0 830.7L1240.0 828.5L1241.0 829.7L1242.0 833.5L1243.0 834.6L1244.0 834.5L1245.0 835.7L1246.0 834.9L1247.0 838.5L1248.0 835.0L1249.0 839.6L1250.0 839.9L1251.0 841.0L1252.0 843.0L1253.0 840.0L1254.0 841.3L1255.0 842.9L1256.0 842.3L1257.0 844.6L1258.0 846.0L1259.0 846.4L1260.0 851.2L1261.0 851.0L1262.0 855.6L1263.0 857.3L1264.0 857.3L1265.0 862.0L1266.0 863.6L1267.0 861.0L1268.0 863.8L1269.0 867.1L1270.0 870.3L1271.0 871.5L1272.0 872.7L1273.0 874.6L1274.0 875.0L1275.0 878.7L1276.0 875.5L1277.0 880.1L1278.0 880.8L1279.0 881.8L1280.0 880.2L1281.0 881.5L1282.0 885.9L1283.0 886.1L1284.0 886.4L1285.0 887.2L1286.0 884.9L1287.0 888.5L1288.0 891.5L1289.0 890.0L1290.0 892.2L1291.0 887.6L1292.0 893.2L1293.0 891.3L1294.0 892.2L1295.0 894.2L1296.0 891.6L1297.0 894.3L1298.0 895.6L1299.0 897.1L1300.0 895.4L1301.0 894.6L1302.0 894.5L1303.0 893.9L1304.0 895.5L1305.0 894.8L1306.0 900.4L1307.0 899.9L1308.0 901.7L1309.0 900.2L1310.0 898.3L1311.0 898.7L1312.0 902.6L1313.0 903.2L1314.0 899.5L1315.0 903.1L1316.0 901.6L1317.0 900.7L1318.0 901.8L1319.0 903.2L1320.0 902.0L1321.0 906.8L1322.0 906.9L1323.0 906.0L1324.0 904.2L1325.0 907.6L1326.0 907.3L1327.0 908.8L1328.0 910.2L1329.0 909.8L1330.0 910.4L1331.0 910.7L1332.0 911.4L1333.0 908.3L1334.0 911.1L1335.0 910.6L1336.0 909.6L1337.0 912.6L1338.0 914.2L1339.0 914.1L1340.0 911.2L1341.0 912.5L1342.0 916.7L1343.0 912.7L1344.0 915.0L1345.0 914.4L1346.0 914.5L1347.0 918.6L1348.0 915.2L1349.0 919.7L1350.0 917.7L1351.0 919.6L1352.0 918.2L1353.0 921.3L1354.0 920.3L1355.0 922.5L1356.0 922.0L1357.0 924.1L1358.0 922.1L1359.0 921.4L1360.0 921.0L1361.0 924.5L1362.0 925.4L1363.0 925.6L1364.0 922.7L1365.0 927.2L1366.0 928.9L1367.0 926.8L1368.0 926.9L1369.0 925.5L1370.0 931.1L1371.0 928.2L1372.0 926.8L1373.0 928.6L1374.0 928.5L1375.0 933.4L1376.0 933.1L1377.0 933.9L1378.0 930.5L1379.0 929.9L1380.0 931.3L1381.0 934.0L1382.0 931.9L1383.0 932.9L1384.0 934.8L1385.0 934.2L1386.0 932.6L1387.0 933.9L1388.0 934.0L1389.0 935.8L1390.0 933.6L1391.0 934.6L1392.0 934.8L1393.0 935.6L1394.0 936.5L1395.0 935.6L1396.0 936.5L1397.0 938.3L1398.0 938.6L1399.0 940.8L1400.0 941.5L1401.0 938.4L1402.0 938.6L1403.0 940.5L1404.0 938.8L1405.0 938.3L1406.0 943.0L1407.0 938.4L1408.0 939.3L1409.0 943.8L1410.0 943.1L1411.0 943.3L1412.0 942.3L1413.0 943.0L1414.0 944.0L1415.0 943.1L1416.0 946.0L1417.0 945.3L1418.0 942.4L1419.0 946.0L1420.0 944.2L1421.0 943.6L1422.0 944.9L1423.0 947.3L1424.0 946.0L1425.0 944.5L1426.0 945.1L1427.0 944.4L1428.0 947.0L1429.0 944.4L1430.0 947.3L1431.0 944.9L1432.0 948.4L1433.0 947.6L1434.0 944.0L1435.0 945.0L1436.0 945.9L1437.0 946.2L1438.0 946.7L1439.0 947.0L1440.0 948.4L1441.0 946.5L1442.0 944.9L1443.0 948.4L1444.0 944.6L1445.0 946.8L1446.0 944.9L1447.0 950.4L1448.0 948.7L1449.0 947.4L1450.0 948.3L1451.0 946.5L1452.0 946.4L1453.0 947.0L1454.0 946.9L1455.0 948.8L1456.0 949.5L1457.0 951.1L1458.0 949.9L1459.0 952.9L1460.0 949.2L1461.0 949.4L1462.0 951.7L1463.0 952.2L1464.0 950.9L1465.0 950.3L1466.0 954.3L1467.0 950.9L1468.0 951.7L1469.0 954.5L1470.0 956.1L1471.0 953.9L1472.0 954.8L1473.0 953.5L1474.0 952.6L1475.0 957.2L1476.0 956.3L1477.0 955.3L1478.0 958.2L1479.0 956.0L1480.0 955.5L1481.0 954.7L1482.0 954.7L1483.0 958.2L1484.0 959.4L1485.0 955.1L1486.0 955.3L1487.0 959.4L1488.0 955.6L1489.0 958.6L1490.0 960.9L1491.0 956.2L1492.0 956.5L1493.0 960.6L1494.0 957.5L1495.0 958.8L1496.0 961.5L1497.0 959.6L1498.0 957.4L1499.0 962.9L1500.0 960.9L1501.0 957.8L1502.0 963.3L1503.0 959.6L1504.0 960.6L1505.0 963.7L1506.0 963.3L1507.0 964.4L1508.0 962.8L1509.0 964.9L1510.0 960.4L1511.0 963.3L1512.0 962.9L1513.0 963.0L1514.0 965.0L1515.0 965.6L1516.0 961.4L1517.0 964.7L1518.0 963.0L1519.0 962.7L1520.0 964.0L1521.0 963.2L1522.0 967.2L1523.0 966.5L1524.0 967.4L1525.0 964.0L1526.0 965.4L1527.0 964.8L1528.0 967.2L1529.0 964.9L1530.0 967.6L1531.0 967.1L1532.0 966.2L1533.0 969.1L1534.0 968.4L1535.0 969.9L1536.0 968.6L1537.0 969.7L1538.0 966.1L1539.0 970.7L1540.0 967.2L1541.0 970.1L1542.0 967.3L1543.0 969.3L1544.0 968.1L1545.0 971.1L1546.0 972.0L1547.0 967.6L1548.0 972.3L1549.0 972.4L1550.0 972.6L1551.0 968.9L1552.0 968.8L1553.0 972.5L1554.0 971.1L1555.0 971.9L1556.0 973.2L1557.0 970.4L1558.0 973.3L1559.0 972.4L1560.0 972.5L1561.0 970.4L1562.0 973.8L1563.0 975.8L1564.0 973.2L1565.0 976.6L1566.0 971.6L1567.0 974.1L1568.0 977.1L1569.0 974.9L1570.0 973.5L1571.0 975.3L1572.0 977.7L1573.0 975.8L1574.0 978.8L1575.0 975.5L1576.0 975.4L1577.0 979.7L1578.0 979.9L1579.0 977.4L1580.0 975.9L1581.0 980.1L1582.0 975.8L1583.0 981.1L1584.0 976.3L1585.0 977.6L1586.0 981.2L1587.0 977.1L1588.0 977.6L1589.0 978.1L1590.0 982.0L1591.0 979.9L1592.0 981.3L1593.0 979.0L1594.0 981.8L1595.0 982.1L1596.0 979.7L1597.0 981.3L1598.0 983.0L1599.0 981.1L1600.0 982.1L1601.0 978.9L1602.0 982.1L1603.0 983.1L1604.0 980.1L1605.0 983.8L1606.0 980.0L1607.0 979.0L1608.0 980.0L1609.0 979.4L1610.0 983.8L1611.0 982.4L1612.0 982.8L1613.0 984.3L1614.0 979.8L1615.0 982.1L1616.0 981.4L1617.0 982.5L1618.0 982.0L1619.0 980.3L1620.0 981.0L1621.0 981.2L1622.0 985.0L1623.0 981.2L1624.0 983.3L1625.0 983.5L1626.0 983.7L1627.0 981.4L1628.0 982.8L1629.0 986.3L1630.0 983.5L1631.0 984.1L1632.0 984.3L1633.0 983.5L1634.0 982.0L1635.0 984.8L1636.0 987.0L1637.0 986.7L1638.0 983.7L1639.0 984.7L1640.0 983.3L1641.0 985.2L1642.0 986.5L1643.0 985.5L1644.0 983.3L1645.0 984.3L1646.0 982.7L1647.0 984.8L1648.0 984.4L1649.0 983.1L1650.0 986.7L1651.0 986.1L1652.0 985.1L1653.0 985.0L1654.0 983.8L1655.0 986.5L1656.0 986.6L1657.0 985.8L1658.0 985.0L1659.0 986.9" stroke="#0000ff" stroke-width="10"/>
<path d="M147.0 1026.4L148.0 1026.3L149.0 1026.1L150.0 1025.1L151.0 1025.3L152.0 1025.9L153.0 1025.9L154.0 1024.1L155.0 1024.0L156.0 1025.0L157.0 1022.7L158.0 1022.8L159.0 1020.8L160.0 1019.9L161.0 1019.2L162.0 1017.8L163.0 1016.6L164.0 1015.8L165.0 1015.8L166.0 1015.3L167.0 1014.3L168.0 1013.9L169.0 1013.5L170.0 1012.5L171.0 1011.9L172.0 1012.4L173.0 1011.2L174.0 1012.0L175.0 1012.3L176.0 1012.2L177.0 1011.0L178.0 1011.2L179.0 1012.2L180.0 1011.1L181.0 1012.4L182.0 1010.9L183.0 1012.3L184.0 1010.9L185.0 1012.4L186.0 1013.0L187.0 1012.8L188.0 1013.3L189.0 1014.1L190.0 1014.5L191.0 1013.1L192.0 1014.1L193.0 1013.4L194.0 1014.3L195.0 1013.9L196.0 1014.0L197.0 1015.0L198.0 1013.9L199.0 1014.1L200.0 1013.8L201.0 1015.4L202.0 1014.3L203.0 1014.0L204.0 1015.1L205.0 1015.3L206.0 1015.1L207.0 1015.0L208.0 1015.0L209.0 1015.3L210.0 1014.5L211.0 1015.6L212.0 1015.3L213.0 1015.6L214.0 1015.7L215.0 1015.6L216.0 1015.0L217.0 1015.0L218.0 1015.4L219.0 1015.1L220.0 1014.0L221.0 1015.8L222.0 1014.3L223.0 1014.9L224.0 1014.8L225.0 1014.1L226.0 1015.1L227.0 1015.1L228.0 1015.5L229.0 1015.1L230.0 1014.5L231.0 1015.0L232.0 1015.8L233.0 1015.2L234.0 1015.6L235.0 1013.9L236.0 1015.2L237.0 1014.3L238.0 1014.2L239.0 1014.5L240.0 1014.2L241.0 1014.0L242.0 1014.3L243.0 1014.3L244.0 1014.3L245.0 1015.4L246.0 1014.0L247.0 1014.2L248.0 1013.9L249.0 1014.8L250.0 1014.2L251.0 1014.8L252.0 1014.2L253.0 1014.1L254.0 1014.7L255.0 1013.8L256.0 1015.4L257.0 1014.8L258.0 1014.4L259.0 1014.7L260.0 1015.5L261.0 1014.5L262.0 1014.3L263.0 1013.9L264.0 1014.2L265.0 1014.9L266.0 1014.6L267.0 1013.9L268.0 1015.1L269.0 1013.5L270.0 1013.9L271.0 1014.7L272.0 1014.9L273.0 1014.0L274.0 1013.0L275.0 1014.1L276.0 1013.8L277.0 1012.9L278.0 1013.5L279.0 1014.5L280.0 1012.8L281.0 1013.0L282.0 1012.9L283.0 1014.1L284.0 1013.1L285.0 1013.8L286.0 1013.7L287.0 1012.3L288.0 1013.0L289.0 1012.3L290.0 1013.6L291.0 1012.9L292.0 1012.5L293.0 1013.3L294.0 1013.2L295.0 1011.6L296.0 1011.5L297.0 1011.8L298.0 1011.7L299.0 1011.8L300.0 1011.6L301.0 1012.6L302.0 1011.8L303.0 1012.2L304.0 1011.4L305.0 1010.5L306.0 1011.0L307.0 1010.0L308.0 1010.7L309.0 1009.6L310.0 1011.1L311.0 1009.6L312.0 1010.6L313.0 1009.1L314.0 1008.8L315.0 1008.7L316.0 1009.6L317.0 1009.4L318.0 1009.0L319.0 1008.4L320.0 1007.3L321.0 1007.3L322.0 1006.6L323.0 1008.1L324.0 1006.2L325.0 1007.1L326.0 1005.4L327.0 1005.7L328.0 1006.1L329.0 1005.0L330.0 1004.5L331.0 1005.9L332.0 1004.4L333.0 1003.6L334.0 1004.8L335.0 1005.1L336.0 1003.9L337.0 1002.7L338.0 1003.2L339.0 1003.3L340.0 1002.3L341.0 1002.4L342.0 1002.7L343.0 1002.3L344.0 1002.3L345.0 1002.2L346.0 1001.0L347.0 1001.6L348.0 999.6L349.0 1000.1L350.0 1000.1L351.0 1000.2L352.0 999.0L353.0 998.6L354.0 999.1L355.0 997.9L356.0 996.7L357.0 997.1L358.0 996.3L359.0 996.6L360.0 996.4L361.0 994.4L362.0 994.4L363.0 994.9L364.0 994.1L365.0 993.3L366.0 991.8L367.0 992.2L368.0 991.2L369.0 990.3L370.0 988.9L371.0 988.2L372.0 986.3L373.0 985.3L374.0 984.3L375.0 983.5L376.0 983.6L377.0 983.5L378.0 982.0L379.0 981.5L380.0 980.7L381.0 980.3L382.0 978.2L383.0 977.9L384.0 978.1L385.0 976.2L386.0 976.3L387.0 975.0L388.0 973.7L389.0 973.0L390.0 972.4L391.0 970.7L392.0 971.3L393.0 969.0L394.0 967.4L395.0 967.2L396.0 964.3L397.0 964.6L398.0 962.9L399.0 961.2L400.0 960.9L401.0 961.2L402.0 958.5L403.0 958.1L404.0 957.1L405.0 957.0L406.0 955.3L407.0 955.6L408.0 953.6L409.0 953.6L410.0 950.7L411.0 949.6L412.0 947.9L413.0 946.6L414.0 945.5L415.0 944.9L416.0 943.5L417.0 942.5L418.0 940.1L419.0 939.5L420.0 938.9L421.0 936.3L422.0 935.0L423.0 934.0L424.0 934.7L425.0 933.4L426.0 932.2L427.0 931.0L428.0 928.9L429.0 927.8L430.0 927.3L431.0 924.9L432.0 924.0L433.0 923.4L434.0 920.6L435.0 919.9L436.0 919.3L437.0 918.2L438.0 917.3L439.0 916.4L440.0 914.7L441.0 913.0L442.0 912.6L443.0 912.4L444.0 909.9L445.0 909.0L446.0 907.6L447.0 907.5L448.0 904.2L449.0 902.6L450.0 902.0L451.0 900.7L452.0 898.6L453.0 897.8L454.0 896.2L455.0 894.0L456.0 891.7L457.0 891.3L458.0 889.4L459.0 888.3L460.0 885.9L461.0 882.7L462.0 880.9L463.0 879.1L464.0 877.9L465.0 875.0L466.0 872.9L467.0 870.8L468.0 869.0L469.0 867.6L470.0 866.2L471.0 864.9L472.0 862.0L473.0 861.6L474.0 861.4L475.0 859.2L476.0 857.7L477.0 857.8L478.0 857.0L479.0 854.2L480.0 852.9L481.0 851.8L482.0 850.3L483.0 848.2L484.0 846.5L485.0 845.5L486.0 844.9L487.0 842.5L488.0 840.3L489.0 840.1L490.0 837.3L491.0 835.5L492.0 834.1L493.0 832.5L494.0 832.9L495.0 830.7L496.0 830.3L497.0 828.1L498.0 825.8L499.0 825.1L500.0 823.8L501.0 822.1L502.0 820.7L503.0 820.7L504.0 819.8L505.0 818.8L506.0 816.2L507.0 815.7L508.0 813.8L509.0 813.8L510.0 812.8L511.0 809.8L512.0 809.0L513.0 809.3L514.0 808.4L515.0 807.1L516.0 804.4L517.0 804.5L518.0 803.9L519.0 802.5L520.0 801.6L521.0 801.2L522.0 799.0L523.0 799.3L524.0 799.3L525.0 797.8L526.0 796.7L527.0 795.5L528.0 796.3L529.0 795.1L530.0 794.9L531.0 794.1L532.0 792.6L533.0 792.0L534.0 791.1L535.0 790.0L536.0 788.6L537.0 788.4L538.0 788.0L539.0 786.5L540.0 787.1L541.0 786.2L542.0 785.4L543.0 785.1L544.0 785.6L545.0 783.4L546.0 782.7L547.0 782.9L548.0 781.3L549.0 781.8L550.0 780.8L551.0 778.6L552.0 777.5L553.0 777.2L554.0 776.8L555.0 775.7L556.0 775.6L557.0 773.9L558.0 773.7L559.0 773.6L560.0 773.2L561.0 772.0L562.0 771.5L563.0 772.0L564.0 771.0L565.0 770.1L566.0 768.8L567.0 768.3L568.0 767.2L569.0 766.9L570.0 766.1L571.0 765.8L572.0 766.1L573.0 765.5L574.0 765.5L575.0 764.5L576.0 763.5L577.0 763.1L578.0 763.6L579.0 761.6L580.0 761.4L581.0 761.6L582.0 760.6L583.0 760.8L584.0 759.9L585.0 760.5L586.0 760.7L587.0 759.5L588.0 760.0L589.0 758.2L590.0 758.3L591.0 758.3L592.0 759.5L593.0 758.5L594.0 759.2L595.0 759.9L596.0 759.5L597.0 759.3L598.0 759.8L599.0 760.2L600.0 760.2L601.0 760.2L602.0 759.4L603.0 761.0L604.0 760.5L605.0 760.8L606.0 760.6L607.0 759.5L608.0 759.8L609.0 760.0L610.0 759.1L611.0 760.2L612.0 759.3L613.0 759.3L614.0 759.6L615.0 758.1L616.0 757.7L617.0 757.8L618.0 756.3L619.0 756.1L620.0 755.5L621.0 756.5L622.0 755.2L623.0 754.9L624.0 754.0L625.0 752.7L626.0 752.0L627.0 752.4L628.0 750.8L629.0 749.9L630.0 748.6L631.0 748.7L632.0 746.4L633.0 746.9L634.0 745.8L635.0 745.2L636.0 745.2L637.0 743.7L638.0 743.4L639.0 742.8L640.0 743.0L641.0 743.1L642.0 742.8L643.0 741.5L644.0 742.5L645.0 740.8L646.0 741.9L647.0 740.9L648.0 741.1L649.0 741.5L650.0 740.5L651.0 741.7L652.0 741.6L653.0 741.8L654.0 741.3L655.0 742.1L656.0 742.0L657.0 741.7L658.0 742.0L659.0 741.2L660.0 742.0L661.0 741.4L662.0 741.1L663.0 742.0L664.0 742.7L665.0 741.7L666.0 741.1L667.0 742.0L668.0 741.1L669.0 742.0L670.0 742.1L671.0 740.9L672.0 741.0L673.0 741.1L674.0 741.4L675.0 741.3L676.0 741.6L677.0 740.6L678.0 741.0L679.0 739.3L680.0 739.1L681.0 740.2L682.0 739.6L683.0 738.5L684.0 737.5L685.0 737.6L686.0 737.6L687.0 736.5L688.0 737.3L689.0 737.5L690.0 736.0L691.0 735.6L692.0 735.2L693.0 735.0L694.0 735.1L695.0 734.2L696.0 733.4L697.0 733.1L698.0 734.5L699.0 733.7L700.0 732.3L701.0 732.6L702.0 733.0L703.0 732.1L704.0 732.4L705.0 732.9L706.0 731.4L707.0 731.5L708.0 730.8L709.0 731.8L710.0 731.3L711.0 731.3L712.0 730.9L713.0 731.5L714.0 731.5L715.0 732.1L716.0 731.9L717.0 730.6L718.0 730.9L719.0 731.5L720.0 731.4L721.0 731.6L722.0 731.9L723.0 733.5L724.0 732.4L725.0 734.1L726.0 733.7L727.0 734.5L728.0 734.2L729.0 733.9L730.0 734.4L731.0 735.5L732.0 735.4L733.0 735.3L734.0 734.9L735.0 735.6L736.0 734.4L737.0 735.0L738.0 734.7L739.0 734.7L740.0 735.3L741.0 733.7L742.0 733.6L743.0 733.7L744.0 732.7L745.0 733.3L746.0 731.8L747.0 730.2L748.0 730.1L749.0 729.4L750.0 729.0L751.0 727.4L752.0 728.6L753.0 726.8L754.0 726.6L755.0 725.4L756.0 724.5L757.0 723.4L758.0 723.8L759.0 721.4L760.0 721.3L761.0 720.0L762.0 719.3L763.0 718.0L764.0 719.0L765.0 716.8L766.0 716.8L767.0 716.0L768.0 715.5L769.0 713.7L770.0 713.0L771.0 712.9L772.0 711.6L773.0 710.4L774.0 710.1L775.0 710.8L776.0 709.2L777.0 709.6L778.0 709.7L779.0 709.7L780.0 709.2L781.0 709.5L782.0 709.9L783.0 709.0L784.0 708.7L785.0 708.8L786.0 709.5L787.0 708.4L788.0 709.7L789.0 708.5L790.0 708.3L791.0 709.5L792.0 708.7L793.0 709.7L794.0 708.6L795.0 708.8L796.0 709.3L797.0 709.9L798.0 709.6L799.0 710.5L800.0 710.6L801.0 709.2L802.0 710.7L803.0 711.2L804.0 710.0L805.0 710.4L806.0 710.9L807.0 711.9L808.0 710.6L809.0 710.8L810.0 712.1L811.0 711.0L812.0 712.3L813.0 711.4L814.0 712.4L815.0 711.1L816.0 711.2L817.0 711.9L818.0 711.9L819.0 711.6L820.0 710.5L821.0 710.9L822.0 711.0L823.0 710.7L824.0 710.7L825.0 709.8L826.0 709.1L827.0 708.6L828.0 707.8L829.0 707.5L830.0 706.0L831.0 705.8L832.0 704.9L833.0 703.2L834.0 703.3L835.0 702.5L836.0 702.0L837.0 700.7L838.0 701.6L839.0 699.9L840.0 699.7L841.0 698.4L842.0 698.4L843.0 698.4L844.0 697.6L845.0 697.4L846.0 696.7L847.0 696.9L848.0 695.8L849.0 694.5L850.0 694.1L851.0 695.5L852.0 694.5L853.0 694.3L854.0 694.2L855.0 694.1L856.0 693.1L857.0 692.7L858.0 693.2L859.0 692.7L860.0 693.1L861.0 692.8L862.0 693.9L863.0 693.9L864.0 693.4L865.0 693.9L866.0 693.3L867.0 693.0L868.0 692.9L869.0 693.1L870.0 693.6L871.0 692.7L872.0 692.9L873.0 694.8L874.0 693.4L875.0 693.6L876.0 694.7L877.0 694.5L878.0 695.2L879.0 694.0L880.0 694.2L881.0 695.1L882.0 696.2L883.0 695.3L884.0 696.0L885.0 697.0L886.0 697.1L887.0 696.9L888.0 696.4L889.0 696.7L890.0 697.0L891.0 697.7L892.0 699.1L893.0 697.8L894.0 699.0L895.0 699.4L896.0 699.0L897.0 700.0L898.0 698.9L899.0 700.8L900.0 699.1L901.0 699.8L902.0 699.2L903.0 699.6L904.0 699.1L905.0 700.0L906.0 699.4L907.0 700.7L908.0 699.6L909.0 698.5L910.0 699.8L911.0 697.8L912.0 698.5L913.0 697.6L914.0 697.0L915.0 696.9L916.0 695.5L917.0 695.6L918.0 695.0L919.0 694.4L920.0 693.9L921.0 691.7L922.0 692.4L923.0 690.9L924.0 690.3L925.0 688.7L926.0 688.6L927.0 687.7L928.0 687.9L929.0 686.8L930.0 686.5L931.0 684.6L932.0 683.8L933.0 683.6L934.0 682.1L935.0 681.7L936.0 681.8L937.0 682.5L938.0 681.8L939.0 680.3L940.0 679.5L941.0 679.5L942.0 679.2L943.0 680.7L944.0 679.2L945.0 679.0L946.0 680.1L947.0 679.3L948.0 679.3L949.0 678.2L950.0 678.3L951.0 678.7L952.0 679.0L953.0 679.4L954.0 679.9L955.0 680.0L956.0 679.8L957.0 679.3L958.0 679.9L959.0 681.8L960.0 680.6L961.0 681.9L962.0 681.3L963.0 682.1L964.0 681.4L965.0 683.0L966.0 682.6L967.0 683.8L968.0 684.3L969.0 683.5L970.0 684.8L971.0 685.7L972.0 685.0L973.0 684.6L974.0 686.0L975.0 685.8L976.0 686.1L977.0 688.0L978.0 686.6L979.0 687.3L980.0 688.0L981.0 688.1L982.0 688.4L983.0 689.0L984.0 689.9L985.0 690.8L986.0 691.8L987.0 691.2L988.0 691.0L989.0 693.2L990.0 693.2L991.0 694.4L992.0 694.6L993.0 693.6L994.0 695.3L995.0 695.2L996.0 696.1L997.0 695.5L998.0 695.8L999.0 697.2L1000.0 697.5L1001.0 698.8L1002.0 697.9L1003.0 698.9L1004.0 699.2L1005.0 699.4L1006.0 700.1L1007.0 700.6L1008.0 700.6L1009.0 700.6L1010.0 700.4L1011.0 700.6L1012.0 701.9L1013.0 702.0L1014.0 702.1L1015.0 703.2L1016.0 702.6L1017.0 702.9L1018.0 703.4L1019.0 704.7L1020.0 703.9L1021.0 703.7L1022.0 705.0L1023.0 705.8L1024.0 705.7L1025.0 705.8L1026.0 706.5L1027.0 706.3L1028.0 707.0L1029.0 706.0L1030.0 707.3L1031.0 706.9L1032.0 707.5L1033.0 707.9L1034.0 708.4L1035.0 707.9L1036.0 708.8L1037.0 708.6L1038.0 710.0L1039.0 709.5L1040.0 709.8L1041.0 711.8L1042.0 711.4L1043.0 711.4L1044.0 712.2L1045.0 713.8L1046.0 714.1L1047.0 714.6L1048.0 714.0L1049.0 714.8L1050.0 715.3L1051.0 716.4L1052.0 717.4L1053.0 717.9L1054.0 719.1L1055.0 718.8L1056.0 719.6L1057.0 721.5L1058.0 721.8L1059.0 722.5L1060.0 722.6L1061.0 723.7L1062.0 724.2L1063.0 726.1L1064.0 725.4L1065.0 727.0L1066.0 727.6L1067.0 728.5L1068.0 728.0L1069.0 730.0L1070.0 731.3L1071.0 731.7L1072.0 731.1L1073.0 733.1L1074.0 733.3L1075.0 734.7L1076.0 735.2L1077.0 737.0L1078.0 736.2L1079.0 738.7L1080.0 738.7L1081.0 740.5L1082.0 740.8L1083.0 742.3L1084.0 741.4L1085.0 742.6L1086.0 743.4L1087.0 744.9L1088.0 746.0L1089.0 745.8L1090.0 747.7L1091.0 748.6L1092.0 749.6L1093.0 749.3L1094.0 750.3L1095.0 751.7L1096.0 751.6L1097.0 752.6L1098.0 753.3L1099.0 755.5L1100.0 756.4L1101.0 756.5L1102.0 757.4L1103.0 757.9L1104.0 757.4L1105.0 758.7L1106.0 758.4L1107.0 759.2L1108.0 759.0L1109.0 758.0L1110.0 759.6L1111.0 760.1L1112.0 760.5L1113.0 759.4L1114.0 761.0L1115.0 761.0L1116.0 760.6L1117.0 762.5L1118.0 762.7L1119.0 762.5L1120.0 763.5L1121.0 763.8L1122.0 763.5L1123.0 764.8L1124.0 766.0L1125.0 766.0L1126.0 766.5L1127.0 766.2L1128.0 767.2L1129.0 767.8L1130.0 769.0L1131.0 769.0L1132.0 770.4L1133.0 770.0L1134.0 771.1L1135.0 771.8L1136.0 772.1L1137.0 774.1L1138.0 774.4L1139.0 773.4L1140.0 774.0L1141.0 775.6L1142.0 776.5L1143.0 777.3L1144.0 777.3L1145.0 778.9L1146.0 777.8L1147.0 778.2L1148.0 779.6L1149.0 779.8L1150.0 781.8L1151.0 782.1L1152.0 782.8L1153.0 781.7L1154.0 782.3L1155.0 783.4L1156.0 783.8L1157.0 785.0L1158.0 785.0L1159.0 786.8L1160.0 787.4L1161.0 787.3L1162.0 788.1L1163.0 788.4L1164.0 790.6L1165.0 790.2L1166.0 792.1L1167.0 792.4L1168.0 792.9L1169.0 794.2L1170.0 793.8L1171.0 795.8L1172.0 796.1L1173.0 796.9L1174.0 798.4L1175.0 799.2L1176.0 799.4L1177.0 800.1L1178.0 801.8L1179.0 801.3L1180.0 801.8L1181.0 803.1L1182.0 803.6L1183.0 804.8L1184.0 805.6L1185.0 806.7L1186.0 806.1L1187.0 807.2L1188.0 808.5L1189.0 808.0L1190.0 810.1L1191.0 809.7L1192.0 811.3L1193.0 811.1L1194.0 813.2L1195.0 812.7L1196.0 814.1L1197.0 815.1L1198.0 814.2L1199.0 815.9L1200.0 816.0L1201.0 817.2L1202.0 818.4L1203.0 817.7L1204.0 818.3L1205.0 820.0L1206.0 819.9L1207.0 821.7L1208.0 821.4L1209.0 822.1L1210.0 822.6L1211.0 824.4L1212.0 825.8L1213.0 826.2L1214.0 826.2L1215.0 827.3L1216.0 828.8L1217.0 828.8L1218.0 830.0L1219.0 830.2L1220.0 830.4L1221.0 832.6L1222.0 832.8L1223.0 834.5L1224.0 834.4L1225.0 835.0L1226.0 835.6L1227.0 836.6L1228.0 837.5L1229.0 839.2L1230.0 839.0L1231.0 839.5L1232.0 841.7L1233.0 840.7L1234.0 842.3L1235.0 843.9L1236.0 844.7L1237.0 843.8L1238.0 844.8L1239.0 845.9L1240.0 846.4L1241.0 847.2L1242.0 848.2L1243.0 848.0L1244.0 850.3L1245.0 849.1L1246.0 851.4L1247.0 851.2L1248.0 853.1L1249.0 852.6L1250.0 853.6L1251.0 854.7L1252.0 856.6L1253.0 857.5L1254.0 857.1L1255.0 858.1L1256.0 859.2L1257.0 859.6L1258.0 861.3L1259.0 860.8L1260.0 861.7L1261.0 863.4L1262.0 863.4L1263.0 865.9L1264.0 865.7L1265.0 867.0L1266.0 867.3L1267.0 868.5L1268.0 868.3L1269.0 869.8L1270.0 870.0L1271.0 871.4L1272.0 870.3L1273.0 872.5L1274.0 872.0L1275.0 873.7L1276.0 874.9L1277.0 874.3L1278.0 875.2L1279.0 876.2L1280.0 876.3L1281.0 876.6L1282.0 876.7L1283.0 879.0L1284.0 878.0L1285.0 879.7L1286.0 880.4L1287.0 881.2L1288.0 882.2L1289.0 881.6L1290.0 883.1L1291.0 883.1L1292.0 883.8L1293.0 885.2L1294.0 884.2L1295.0 886.2L1296.0 886.6L1297.0 886.6L1298.0 887.5L1299.0 888.4L1300.0 888.2L1301.0 888.9L1302.0 889.6L1303.0 889.9L1304.0 889.9L1305.0 890.1L1306.0 890.8L1307.0 891.3L1308.0 892.0L1309.0 893.1L1310.0 893.8L1311.0 894.3L1312.0 895.3L1313.0 895.1L1314.0 895.6L1315.0 897.8L1316.0 897.3L1317.0 897.3L1318.0 898.0L1319.0 900.3L1320.0 900.3L1321.0 900.5L1322.0 901.5L1323.0 902.8L1324.0 903.6L1325.0 903.6L1326.0 904.7L1327.0 904.6L1328.0 905.3L1329.0 905.1L1330.0 906.8L1331.0 907.2L1332.0 907.7L1333.0 907.3L1334.0 907.9L1335.0 909.0L1336.0 910.3L1337.0 909.8L1338.0 911.8L1339.0 911.7L1340.0 911.5L1341.0 912.7L1342.0 912.3L1343.0 912.8L1344.0 914.2L1345.0 914.5L1346.0 914.7L1347.0 916.6L1348.0 916.3L1349.0 915.7L1350.0 917.0L1351.0 917.8L1352.0 918.0L1353.0 919.4L1354.0 919.4L1355.0 920.1L1356.0 918.8L1357.0 920.4L1358.0 920.0L1359.0 920.2L1360.0 920.9L1361.0 920.9L1362.0 922.7L1363.0 922.5L1364.0 922.9L1365.0 923.1L1366.0 924.1L1367.0 924.6L1368.0 924.2L1369.0 924.0L1370.0 925.7L1371.0 925.4L1372.0 925.7L1373.0 925.9L1374.0 925.7L1375.0 926.9L1376.0 925.6L1377.0 926.4L1378.0 928.0L1379.0 928.2L1380.0 927.1L1381.0 927.0L1382.0 927.4L1383.0 929.0L1384.0 928.8L1385.0 927.7L1386.0 928.3L1387.0 929.7L1388.0 929.2L1389.0 928.7L1390.0 928.9L1391.0 930.8L1392.0 930.1L1393.0 930.5L1394.0 929.9L1395.0 930.4L1396.0 930.6L1397.0 931.7L1398.0 930.9L1399.0 930.6L1400.0 931.8L1401.0 932.3L1402.0 932.4L1403.0 933.0L1404.0 933.2L1405.0 932.9L1406.0 932.3L1407.0 933.0L1408.0 933.2L1409.0 933.4L1410.0 933.8L1411.0 934.1L1412.0 933.9L1413.0 934.1L1414.0 935.2L1415.0 934.3L1416.0 935.1L1417.0 935.0L1418.0 934.5L1419.0 936.5L1420.0 935.5L1421.0 935.5L1422.0 936.1L1423.0 937.1L1424.0 937.2L1425.0 937.0L1426.0 938.0L1427.0 937.8L1428.0 938.4L1429.0 939.5L1430.0 939.8L1431.0 939.4L1432.0 939.7L1433.0 940.6L1434.0 940.4L1435.0 939.7L1436.0 940.0L1437.0 941.3L1438.0 941.2L1439.0 941.9L1440.0 942.7L1441.0 941.8L1442.0 942.0L1443.0 942.1L1444.0 942.4L1445.0 944.0L1446.0 944.2L1447.0 945.1L1448.0 943.7L1449.0 945.7L1450.0 945.9L1451.0 944.6L1452.0 945.3L1453.0 945.2L1454.0 946.1L1455.0 945.7L1456.0 946.5L1457.0 948.0L1458.0 947.9L1459.0 947.7L1460.0 949.0L1461.0 947.5L1462.0 947.8L1463.0 949.3L1464.0 949.0L1465.0 949.6L1466.0 949.3L1467.0 950.9L1468.0 949.7L1469.0 951.5L1470.0 951.2L1471.0 952.2L1472.0 952.0L1473.0 952.6L1474.0 952.5L1475.0 953.0L1476.0 954.2L1477.0 954.3L1478.0 955.1L1479.0 955.3L1480.0 955.9L1481.0 956.2L1482.0 955.5L1483.0 957.1L1484.0 957.9L1485.0 957.2L1486.0 958.3L1487.0 957.6L1488.0 957.9L1489.0 959.9L1490.0 959.6L1491.0 960.1L1492.0 959.5L1493.0 961.7L1494.0 960.2L1495.0 962.3L1496.0 962.2L1497.0 961.7L1498.0 962.8L1499.0 962.8L1500.0 964.0L1501.0 964.5L1502.0 964.9L1503.0 965.1L1504.0 963.9L1505.0 964.8L1506.0 965.0L1507.0 966.3L1508.0 966.6L1509.0 966.0L1510.0 967.8L1511.0 966.4L1512.0 967.0L1513.0 967.8L1514.0 969.0L1515.0 967.9L1516.0 967.6L1517.0 968.0L1518.0 969.6L1519.0 969.2L1520.0 968.6L1521.0 969.7L1522.0 970.4L1523.0 969.8L1524.0 969.7L1525.0 968.9L1526.0 970.3L1527.0 969.0L1528.0 969.3L1529.0 970.8L1530.0 970.8L1531.0 970.0L1532.0 970.4L1533.0 969.7L1534.0 970.7L1535.0 970.4L1536.0 971.3L1537.0 970.7L1538.0 970.9L1539.0 971.8L1540.0 970.6L1541.0 970.7L1542.0 971.6L1543.0 971.4L1544.0 970.8L1545.0 971.5L1546.0 971.6L1547.0 972.1L1548.0 971.3L1549.0 972.2L1550.0 972.3L1551.0 972.2L1552.0 972.0L1553.0 971.7L1554.0 973.1L1555.0 971.9L1556.0 972.8L1557.0 972.6L1558.0 973.4L1559.0 973.5L1560.0 973.2L1561.0 972.6L1562.0 973.0L1563.0 972.5L1564.0 973.5L1565.0 973.5L1566.0 973.9L1567.0 973.6L1568.0 973.4L1569.0 973.6L1570.0 973.6L1571.0 975.1L1572.0 974.5L1573.0 975.2L1574.0 974.1L1575.0 974.9L1576.0 975.1L1577.0 975.4L1578.0 975.6L1579.0 976.8L1580.0 975.7L1581.0 977.1L1582.0 977.5L1583.0 977.4L1584.0 977.1L1585.0 977.8L1586.0 977.4L1587.0 978.3L1588.0 978.2L1589.0 978.7L1590.0 977.6L1591.0 978.5L1592.0 978.5L1593.0 979.0L1594.0 978.5L1595.0 978.8L1596.0 979.0L1597.0 979.1L1598.0 979.5L1599.0 981.0L1600.0 979.7L1601.0 980.4L1602.0 981.1L1603.0 981.1L1604.0 980.8L1605.0 981.8L1606.0 980.9L1607.0 982.4L1608.0 981.9L1609.0 982.1L1610.0 982.6L1611.0 981.5L1612.0 982.3L1613.0 983.3L1614.0 982.0L1615.0 983.2L1616.0 983.9L1617.0 983.0L1618.0 983.7L1619.0 983.3L1620.0 985.1L1621.0 984.7L1622.0 985.1L1623.0 985.7L1624.0 985.7L1625.0 985.4L1626.0 984.7L1627.0 984.6L1628.0 986.2L1629.0 985.2L1630.0 987.1L1631.0 986.2L1632.0 987.3L1633.0 986.9L1634.0 987.8L1635.0 986.4L1636.0 986.9L1637.0 988.6L1638.0 988.0L1639.0 987.7L1640.0 988.8L1641.0 988.1L1642.0 989.4L1643.0 987.6L1644.0 989.4L1645.0 988.1L1646.0 989.0L1647.0 988.2L1648.0 988.3L1649.0 990.1L1650.0 989.7L1651.0 989.6L1652.0 989.8L1653.0 988.9L1654.0 989.5L1655.0 990.8L1656.0 990.5L1657.0 990.6L1658.0 989.9L1659.0 991.2" stroke="#ff00ff" stroke-width="10"/>
<path d="M147.0 1063.7L148.0 1061.6L149.0 1063.8L150.0 1064.6L151.0 1061.6L152.0 1063.1L153.0 1059.7L154.0 1056.1L155.0 1053.1L156.0 1051.0L157.0 1045.3L158.0 1044.5L159.0 1040.8L160.0 1038.4L161.0 1038.4L162.0 1037.3L163.0 1036.9L164.0 1038.1L165.0 1037.6L166.0 1034.0L167.0 1036.8L168.0 1034.7L169.0 1035.7L170.0 1034.6L171.0 1032.9L172.0 1031.2L173.0 1033.8L174.0 1033.7L175.0 1031.7L176.0 1029.2L177.0 1032.1L178.0 1031.7L179.0 1032.1L180.0 1032.5L181.0 1032.6L182.0 1031.7L183.0 1030.4L184.0 1031.3L185.0 1031.6L186.0 1033.1L187.0 1032.9L188.0 1034.2L189.0 1033.4L190.0 1034.4L191.0 1036.7L192.0 1036.6L193.0 1037.9L194.0 1037.5L195.0 1035.5L196.0 1037.2L197.0 1037.0L198.0 1037.1L199.0 1036.7L200.0 1036.8L201.0 1038.5L202.0 1039.8L203.0 1040.2L204.0 1040.6L205.0 1038.9L206.0 1036.4L207.0 1037.1L208.0 1036.5L209.0 1040.1L210.0 1037.7L211.0 1039.5L212.0 1038.3L213.0 1039.0L214.0 1040.2L215.0 1039.3L216.0 1036.8L217.0 1039.3L218.0 1038.1L219.0 1040.8L220.0 1037.7L221.0 1037.6L222.0 1040.6L223.0 1038.4L224.0 1037.0L225.0 1040.2L226.0 1040.7L227.0 1038.9L228.0 1037.5L229.0 1040.6L230.0 1038.3L231.0 1037.9L232.0 1037.0L233.0 1040.8L234.0 1037.9L235.0 1037.5L236.0 1038.6L237.0 1040.1L238.0 1041.4L239.0 1038.0L240.0 1039.8L241.0 1038.3L242.0 1040.9L243.0 1039.3L244.0 1040.2L245.0 1040.9L246.0 1039.6L247.0 1039.3L248.0 1037.3L249.0 1038.1L250.0 1040.4L251.0 1040.8L252.0 1040.0L253.0 1037.7L254.0 1040.8L255.0 1041.3L256.0 1041.4L257.0 1041.0L258.0 1040.6L259.0 1039.3L260.0 1039.4L261.0 1038.7L262.0 1040.8L263.0 1039.5L264.0 1041.6L265.0 1039.2L266.0 1039.4L267.0 1038.7L268.0 1039.6L269.0 1041.9L270.0 1042.2L271.0 1042.7L272.0 1038.9L273.0 1041.9L274.0 1041.4L275.0 1040.6L276.0 1043.3L277.0 1042.3L278.0 1040.7L279.0 1043.1L280.0 1041.4L281.0 1041.6L282.0 1041.7L283.0 1041.8L284.0 1039.9L285.0 1043.4L286.0 1041.2L287.0 1041.9L288.0 1040.7L289.0 1042.5L290.0 1040.3L291.0 1040.2L292.0 1041.0L293.0 1044.0L294.0 1043.2L295.0 1043.4L296.0 1040.6L297.0 1042.2L298.0 1043.5L299.0 1043.6L300.0 1042.3L301.0 1040.7L302.0 1042.0L303.0 1044.6L304.0 1044.3L305.0 1043.1L306.0 1042.0L307.0 1043.1L308.0 1043.0L309.0 1042.6L310.0 1044.3L311.0 1043.1L312.0 1041.0L313.0 1043.8L314.0 1043.7L315.0 1041.1L316.0 1043.0L317.0 1045.0L318.0 1043.6L319.0 1043.7L320.0 1042.9L321.0 1042.7L322.0 1045.2L323.0 1042.2L324.0 1043.1L325.0 1041.5L326.0 1043.4L327.0 1044.2L328.0 1044.4L329.0 1045.8L330.0 1042.7L331.0 1042.5L332.0 1043.2L333.0 1043.0L334.0 1045.5L335.0 1042.2L336.0 1043.2L337.0 1045.3L338.0 1042.5L339.0 1042.5L340.0 1042.1L341.0 1041.4L342.0 1041.1L343.0 1043.0L344.0 1039.1L345.0 1039.0L346.0 1041.9L347.0 1041.1L348.0 1039.4L349.0 1039.3L350.0 1038.9L351.0 1037.5L352.0 1037.9L353.0 1037.1L354.0 1037.7L355.0 1036.1L356.0 1036.8L357.0 1033.9L358.0 1037.6L359.0 1032.8L360.0 1034.3L361.0 1033.4L362.0 1031.8L363.0 1035.0L364.0 1032.1L365.0 1030.4L366.0 1030.5L367.0 1029.4L368.0 1030.4L369.0 1031.9L370.0 1031.2L371.0 1027.5L372.0 1029.1L373.0 1027.9L374.0 1028.3L375.0 1025.1L376.0 1024.2L377.0 1024.0L378.0 1027.0L379.0 1022.8L380.0 1022.3L381.0 1023.6L382.0 1021.4L383.0 1021.4L384.0 1024.4L385.0 1020.5L386.0 1022.6L387.0 1022.5L388.0 1020.3L389.0 1019.7L390.0 1018.2L391.0 1018.2L392.0 1018.5L393.0 1018.1L394.0 1017.4L395.0 1016.1L396.0 1017.7L397.0 1015.2L398.0 1014.2L399.0 1013.9L400.0 1014.7L401.0 1012.9L402.0 1012.7L403.0 1012.3L404.0 1009.4L405.0 1010.2L406.0 1006.6L407.0 1007.5L408.0 1006.6L409.0 1005.4L410.0 1003.6L411.0 1005.6L412.0 1002.8L413.0 1002.2L414.0 1000.1L415.0 1002.5L416.0 1001.7L417.0 997.8L418.0 997.9L419.0 996.6L420.0 995.3L421.0 997.3L422.0 995.5L423.0 995.9L424.0 994.1L425.0 991.6L426.0 992.7L427.0 988.9L428.0 990.1L429.0 988.9L430.0 986.1L431.0 986.1L432.0 986.3L433.0 983.7L434.0 982.7L435.0 984.2L436.0 985.0L437.0 982.5L438.0 983.6L439.0 980.7L440.0 978.3L441.0 978.0L442.0 978.6L443.0 979.8L444.0 978.9L445.0 979.0L446.0 976.6L447.0 976.6L448.0 975.0L449.0 972.5L450.0 973.3L451.0 971.2L452.0 972.7L453.0 971.7L454.0 968.1L455.0 966.7L456.0 966.3L457.0 964.0L458.0 963.7L459.0 966.0L460.0 964.7L461.0 961.5L462.0 962.4L463.0 958.3L464.0 960.8L465.0 957.8L466.0 957.0L467.0 954.5L468.0 952.2L469.0 953.5L470.0 952.8L471.0 952.1L472.0 951.4L473.0 951.0L474.0 945.9L475.0 947.7L476.0 944.0L477.0 946.3L478.0 943.8L479.0 940.4L480.0 940.9L481.0 941.7L482.0 940.7L483.0 939.7L484.0 936.7L485.0 936.3L486.0 935.1L487.0 933.2L488.0 933.2L489.0 929.5L490.0 928.7L491.0 929.3L492.0 928.9L493.0 928.9L494.0 924.0L495.0 927.2L496.0 923.3L497.0 922.7L498.0 923.3L499.0 923.7L500.0 919.4L501.0 919.4L502.0 920.7L503.0 919.6L504.0 916.8L505.0 915.2L506.0 916.5L507.0 912.7L508.0 912.2L509.0 909.3L510.0 908.9L511.0 908.7L512.0 907.8L513.0 908.0L514.0 906.4L515.0 903.8L516.0 903.7L517.0 902.2L518.0 900.9L519.0 900.3L520.0 903.0L521.0 901.5L522.0 901.0L523.0 899.7L524.0 896.9L525.0 898.3L526.0 896.7L527.0 897.1L528.0 895.5L529.0 895.1L530.0 892.1L531.0 894.7L532.0 893.4L533.0 892.2L534.0 890.2L535.0 891.4L536.0 889.7L537.0 888.3L538.0 890.2L539.0 889.5L540.0 889.5L541.0 889.9L542.0 886.9L543.0 887.3L544.0 884.7L545.0 886.9L546.0 887.2L547.0 885.1L548.0 883.0L549.0 885.7L550.0 884.0L551.0 882.7L552.0 884.9L553.0 883.0L554.0 883.1L555.0 883.1L556.0 882.0L557.0 882.6L558.0 880.4L559.0 879.7L560.0 880.2L561.0 881.2L562.0 878.5L563.0 877.4L564.0 877.1L565.0 876.9L566.0 875.4L567.0 876.3L568.0 876.2L569.0 877.4L570.0 872.9L571.0 873.1L572.0 872.1L573.0 872.6L574.0 874.2L575.0 870.8L576.0 871.9L577.0 871.2L578.0 872.7L579.0 871.2L580.0 872.9L581.0 872.1L582.0 872.3L583.0 871.6L584.0 868.5L585.0 868.5L586.0 872.3L587.0 868.9L588.0 868.4L589.0 870.8L590.0 870.8L591.0 869.0L592.0 870.2L593.0 870.2L594.0 870.5L595.0 870.2L596.0 869.2L597.0 871.6L598.0 870.2L599.0 872.6L600.0 873.1L601.0 869.0L602.0 872.2L603.0 872.1L604.0 870.3L605.0 871.6L606.0 870.4L607.0 873.0L608.0 870.8L609.0 872.2L610.0 870.6L611.0 873.3L612.0 870.5L613.0 873.8L614.0 870.3L615.0 871.4L616.0 872.6L617.0 871.2L618.0 872.8L619.0 870.0L620.0 873.4L621.0 871.1L622.0 872.5L623.0 869.0L624.0 869.6L625.0 869.6L626.0 871.0L627.0 870.7L628.0 867.5L629.0 866.9L630.0 866.0L631.0 864.2L632.0 863.8L633.0 865.9L634.0 862.4L635.0 865.0L636.0 862.6L637.0 861.1L638.0 861.1L639.0 859.8L640.0 861.6L641.0 859.6L642.0 860.9L643.0 860.0L644.0 860.6L645.0 858.2L646.0 861.0L647.0 858.7L648.0 859.8L649.0 862.2L650.0 862.6L651.0 860.8L652.0 860.7L653.0 861.2L654.0 861.9L655.0 863.5L656.0 860.8L657.0 859.7L658.0 862.4L659.0 861.6L660.0 862.4L661.0 862.4L662.0 860.8L663.0 861.8L664.0 864.1L665.0 862.5L666.0 862.9L667.0 862.3L668.0 860.7L669.0 859.8L670.0 861.4L671.0 859.5L672.0 861.0L673.0 862.1L674.0 857.9L675.0 861.2L676.0 859.7L677.0 861.0L678.0 858.0L679.0 857.6L680.0 856.5L681.0 858.6L682.0 855.2L683.0 855.3L684.0 855.4L685.0 858.1L686.0 857.7L687.0 856.0L688.0 855.6L689.0 853.8L690.0 855.1L691.0 855.8L692.0 852.9L693.0 851.6L694.0 851.5L695.0 852.0L696.0 851.2L697.0 850.8L698.0 851.4L699.0 852.7L700.0 851.1L701.0 849.4L702.0 849.7L703.0 847.9L704.0 850.9L705.0 846.8L706.0 848.9L707.0 849.6L708.0 849.0L709.0 846.0L710.0 849.1L711.0 847.6L712.0 849.0L713.0 845.9L714.0 847.6L715.0 849.5L716.0 845.9L717.0 849.2L718.0 847.6L719.0 847.2L720.0 846.1L721.0 847.6L722.0 845.8L723.0 845.9L724.0 845.6L725.0 846.1L726.0 848.2L727.0 847.3L728.0 849.7L729.0 847.0L730.0 847.4L731.0 849.8L732.0 849.1L733.0 847.1L734.0 849.1L735.0 847.8L736.0 850.7L737.0 849.4L738.0 849.0L739.0 847.0L740.0 848.9L741.0 848.2L742.0 847.0L743.0 845.5L744.0 846.5L745.0 844.1L746.0 842.3L747.0 842.9L748.0 842.1L749.0 842.9L750.0 840.2L751.0 842.5L752.0 839.3L753.0 840.6L754.0 839.4L755.0 841.9L756.0 839.7L757.0 838.0L758.0 837.6L759.0 837.5L760.0 838.6L761.0 836.9L762.0 839.5L763.0 838.2L764.0 835.3L765.0 834.3L766.0 834.2L767.0 835.6L768.0 834.5L769.0 834.9L770.0 834.7L771.0 836.7L772.0 833.3L773.0 836.6L774.0 835.8L775.0 836.1L776.0 833.9L777.0 833.8L778.0 833.9L779.0 835.3L780.0 833.7L781.0 831.9L782.0 832.7L783.0 836.1L784.0 832.0L785.0 834.8L786.0 836.1L787.0 834.3L788.0 834.9L789.0 835.3L790.0 833.6L791.0 835.6L792.0 837.9L793.0 836.1L794.0 835.5L795.0 838.7L796.0 838.7L797.0 838.1L798.0 838.6L799.0 837.2L800.0 838.9L801.0 839.7L802.0 837.0L803.0 838.4L804.0 838.1L805.0 837.9L806.0 839.5L807.0 837.2L808.0 837.4L809.0 838.9L810.0 838.4L811.0 839.0L812.0 837.3L813.0 837.8L814.0 839.9L815.0 837.9L816.0 836.1L817.0 839.8L818.0 838.4L819.0 838.0L820.0 837.9L821.0 837.6L822.0 837.0L823.0 834.2L824.0 833.5L825.0 833.2L826.0 836.5L827.0 832.6L828.0 832.7L829.0 834.8L830.0 830.9L831.0 831.5L832.0 827.9L833.0 826.5L834.0 827.6L835.0 827.9L836.0 824.7L837.0 827.7L838.0 826.4L839.0 826.2L840.0 824.9L841.0 823.8L842.0 825.5L843.0 826.7L844.0 825.0L845.0 824.8L846.0 826.0L847.0 823.6L848.0 823.6L849.0 825.3L850.0 826.0L851.0 825.9L852.0 823.9L853.0 825.7L854.0 827.6L855.0 824.3L856.0 828.0L857.0 826.5L858.0 828.3L859.0 825.0L860.0 826.2L861.0 825.7L862.0 827.3L863.0 829.0L864.0 827.1L865.0 828.8L866.0 830.7L867.0 829.9L868.0 829.5L869.0 828.7L870.0 832.2L871.0 832.6L872.0 829.5L873.0 829.7L874.0 832.2L875.0 829.3L876.0 828.6L877.0 829.1L878.0 829.4L879.0 825.2L880.0 826.5L881.0 823.6L882.0 825.8L883.0 822.5L884.0 824.0L885.0 822.9L886.0 823.1L887.0 824.6L888.0 820.7L889.0 824.3L890.0 822.1L891.0 823.7L892.0 822.2L893.0 822.4L894.0 822.3L895.0 823.7L896.0 822.0L897.0 824.8L898.0 825.1L899.0 825.3L900.0 822.8L901.0 825.3L902.0 825.5L903.0 825.8L904.0 823.1L905.0 824.8L906.0 823.6L907.0 826.1L908.0 825.6L909.0 822.3L910.0 821.9L911.0 821.5L912.0 823.1L913.0 821.8L914.0 822.3L915.0 817.9L916.0 816.9L917.0 816.2L918.0 816.7L919.0 815.7L920.0 815.0L921.0 815.8L922.0 813.6L923.0 812.0L924.0 811.1L925.0 810.1L926.0 809.7L927.0 808.3L928.0 808.2L929.0 808.5L930.0 806.3L931.0 807.1L932.0 808.3L933.0 807.0L934.0 803.9L935.0 803.9L936.0 807.5L937.0 803.4L938.0 806.6L939.0 804.2L940.0 804.0L941.0 802.2L942.0 804.6L943.0 803.1L944.0 802.0L945.0 802.1L946.0 802.7L947.0 802.9L948.0 805.4L949.0 805.6L950.0 801.7L951.0 803.5L952.0 804.9L953.0 801.6L954.0 805.2L955.0 805.7L956.0 802.9L957.0 803.5L958.0 802.3L959.0 803.3L960.0 802.4L961.0 804.4L962.0 804.4L963.0 804.3L964.0 807.0L965.0 805.3L966.0 807.3L967.0 807.2L968.0 805.6L969.0 805.2L970.0 805.9L971.0 805.0L972.0 808.5L973.0 808.8L974.0 808.3L975.0 807.4L976.0 806.9L977.0 806.9L978.0 808.3L979.0 807.2L980.0 807.8L981.0 806.3L982.0 808.7L983.0 806.1L984.0 806.6L985.0 806.9L986.0 808.8L987.0 808.7L988.0 809.2L989.0 807.6L990.0 810.7L991.0 808.5L992.0 807.2L993.0 809.8L994.0 811.2L995.0 808.5L996.0 810.3L997.0 809.3L998.0 810.2L999.0 810.8L1000.0 809.5L1001.0 809.2L1002.0 807.7L1003.0 808.0L1004.0 811.2L1005.0 811.4L1006.0 810.1L1007.0 810.2L1008.0 811.0L1009.0 809.3L1010.0 810.1L1011.0 809.9L1012.0 810.4L1013.0 813.5L1014.0 811.7L1015.0 814.1L1016.0 812.9L1017.0 813.1L1018.0 812.1L1019.0 815.1L1020.0 812.0L1021.0 815.5L1022.0 812.6L1023.0 815.3L1024.0 815.5L1025.0 812.2L1026.0 812.0L1027.0 811.8L1028.0 810.8L1029.0 814.4L1030.0 811.2L1031.0 810.2L1032.0 812.3L1033.0 813.5L1034.0 811.0L1035.0 810.1L1036.0 812.1L1037.0 812.5L1038.0 809.7L1039.0 811.9L1040.0 811.4L1041.0 812.1L1042.0 812.4L1043.0 810.8L1044.0 813.3L1045.0 813.0L1046.0 813.9L1047.0 813.5L1048.0 812.3L1049.0 815.4L1050.0 812.5L1051.0 815.3L1052.0 816.0L1053.0 815.7L1054.0 816.8L1055.0 815.0L1056.0 814.8L1057.0 817.4L1058.0 817.3L1059.0 817.6L1060.0 819.4L1061.0 820.7L1062.0 821.0L1063.0 821.9L1064.0 823.5L1065.0 823.8L1066.0 825.7L1067.0 823.1L1068.0 825.3L1069.0 824.7L1070.0 829.6L1071.0 829.9L1072.0 828.1L1073.0 829.6L1074.0 832.2L1075.0 832.4L1076.0 832.6L1077.0 831.6L1078.0 833.1L1079.0 831.1L1080.0 833.9L1081.0 831.5L1082.0 832.4L1083.0 834.2L1084.0 832.8L1085.0 835.9L1086.0 833.7L1087.0 833.0L1088.0 834.4L1089.0 835.9L1090.0 835.6L1091.0 835.9L1092.0 835.9L1093.0 838.3L1094.0 838.4L1095.0 835.6L1096.0 839.1L1097.0 835.6L1098.0 836.4L1099.0 836.7L1100.0 838.6L1101.0 839.1L1102.0 838.3L1103.0 841.7L1104.0 840.3L1105.0 842.0L1106.0 842.3L1107.0 844.7L1108.0 844.2L1109.0 846.2L1110.0 843.6L1111.0 843.4L1112.0 847.0L1113.0 847.1L1114.0 848.7L1115.0 845.4L1116.0 849.0L1117.0 847.1L1118.0 846.2L1119.0 848.7L1120.0 846.6L1121.0 849.8L1122.0 848.5L1123.0 848.7L1124.0 851.3L1125.0 850.5L1126.0 848.7L1127.0 850.2L1128.0 849.3L1129.0 850.0L1130.0 848.3L1131.0 849.7L1132.0 850.7L1133.0 850.3L1134.0 852.9L1135.0 849.2L1136.0 852.2L1137.0 852.0L1138.0 850.7L1139.0 851.1L1140.0 854.2L1141.0 854.5L1142.0 852.5L1143.0 854.4L1144.0 853.4L1145.0 855.3L1146.0 857.3L1147.0 857.5L1148.0 859.2L1149.0 857.8L1150.0 860.2L1151.0 858.3L1152.0 857.8L1153.0 860.8L1154.0 857.8L1155.0 857.9L1156.0 860.6L1157.0 861.5L1158.0 858.9L1159.0 857.8L1160.0 858.2L1161.0 857.7L1162.0 861.1L1163.0 861.4L1164.0 861.9L1165.0 860.1L1166.0 861.8L1167.0 861.4L1168.0 861.2L1169.0 861.7L1170.0 866.3L1171.0 867.7L1172.0 864.8L1173.0 867.9L1174.0 869.0L1175.0 868.7L1176.0 869.0L1177.0 873.7L1178.0 871.8L1179.0 874.8L1180.0 874.9L1181.0 875.9L1182.0 873.3L1183.0 873.7L1184.0 874.8L1185.0 878.1L1186.0 877.7L1187.0 877.8L1188.0 878.7L1189.0 879.9L1190.0 878.0L1191.0 879.2L1192.0 881.1L1193.0 882.9L1194.0 880.1L1195.0 883.3L1196.0 883.1L1197.0 884.0L1198.0 885.4L1199.0 885.5L1200.0 885.1L1201.0 887.9L1202.0 886.0L1203.0 887.2L1204.0 889.3L1205.0 888.1L1206.0 892.7L1207.0 891.0L1208.0 891.1L1209.0 894.4L1210.0 894.4L1211.0 892.6L1212.0 896.7L1213.0 895.8L1214.0 896.5L1215.0 895.0L1216.0 898.4L1217.0 897.5L1218.0 899.7L1219.0 898.6L1220.0 897.7L1221.0 900.0L1222.0 899.8L1223.0 900.6L1224.0 902.6L1225.0 903.0L1226.0 903.6L1227.0 903.0L1228.0 901.8L1229.0 903.6L1230.0 905.5L1231.0 904.2L1232.0 905.3L1233.0 903.2L1234.0 906.7L1235.0 903.6L1236.0 903.9L1237.0 905.8L1238.0 908.4L1239.0 905.4L1240.0 907.2L1241.0 905.4L1242.0 906.0L1243.0 905.1L1244.0 905.3L1245.0 906.5L1246.0 906.8L1247.0 908.5L1248.0 905.9L1249.0 905.1L1250.0 907.9L1251.0 909.6L1252.0 906.8L1253.0 907.0L1254.0 909.1L1255.0 908.0L1256.0 909.3L1257.0 908.9L1258.0 912.4L1259.0 911.9L1260.0 911.3L1261.0 910.6L1262.0 911.3L1263.0 911.6L1264.0 912.3L1265.0 913.3L1266.0 913.8L1267.0 913.2L1268.0 912.0L1269.0 914.7L1270.0 912.8L1271.0 915.8L1272.0 914.1L1273.0 915.2L1274.0 914.7L1275.0 913.1L1276.0 913.9L1277.0 917.4L1278.0 915.6L1279.0 913.9L1280.0 918.3L1281.0 918.3L1282.0 918.6L1283.0 916.5L1284.0 919.2L1285.0 920.1L1286.0 917.9L1287.0 919.9L1288.0 922.0L1289.0 921.8L1290.0 922.5L1291.0 921.0L1292.0 924.2L1293.0 924.6L1294.0 923.8L1295.0 923.8L1296.0 927.3L1297.0 926.1L1298.0 928.8L1299.0 925.7L1300.0 927.2L1301.0 929.8L1302.0 930.4L1303.0 928.4L1304.0 930.6L1305.0 928.7L1306.0 930.7L1307.0 932.8L1308.0 932.2L1309.0 933.8L1310.0 934.0L1311.0 932.8L1312.0 936.4L1313.0 933.0L1314.0 937.7L1315.0 934.2L1316.0 936.2L1317.0 937.4L1318.0 938.6L1319.0 937.8L1320.0 937.2L1321.0 939.0L1322.0 938.8L1323.0 939.9L1324.0 942.6L1325.0 942.0L1326.0 942.1L1327.0 941.9L1328.0 943.1L1329.0 942.4L1330.0 941.8L1331.0 943.4L1332.0 945.7L1333.0 942.5L1334.0 945.4L1335.0 945.2L1336.0 945.3L1337.0 947.1L1338.0 946.1L1339.0 945.7L1340.0 947.5L1341.0 950.1L1342.0 948.4L1343.0 949.5L1344.0 952.0L1345.0 953.5L1346.0 952.6L1347.0 952.5L1348.0 951.3L1349.0 952.7L1350.0 956.0L1351.0 953.3L1352.0 957.1L1353.0 956.0L1354.0 954.7L1355.0 955.6L1356.0 956.8L1357.0 956.0L1358.0 957.3L1359.0 958.1L1360.0 955.6L1361.0 960.1L1362.0 959.2L1363.0 956.9L1364.0 960.6L1365.0 960.9L1366.0 959.9L1367.0 959.9L1368.0 958.5L1369.0 959.1L1370.0 961.2L1371.0 960.1L1372.0 962.4L1373.0 962.3L1374.0 959.8L1375.0 960.7L1376.0 961.3L1377.0 962.2L1378.0 961.6L1379.0 964.7L1380.0 965.4L1381.0 964.0L1382.0 962.6L1383.0 962.3L1384.0 963.5L1385.0 964.7L1386.0 966.1L1387.0 965.3L1388.0 964.1L1389.0 966.9L1390.0 966.6L1391.0 964.7L1392.0 966.6L1393.0 967.5L1394.0 965.4L1395.0 966.1L1396.0 966.7L1397.0 966.9L1398.0 966.4L1399.0 965.4L1400.0 967.2L1401.0 968.9L1402.0 969.1L1403.0 966.4L1404.0 965.9L1405.0 969.4L1406.0 965.6L1407.0 966.2L1408.0 966.9L1409.0 968.4L1410.0 966.8L1411.0 967.1L1412.0 969.6L1413.0 969.6L1414.0 967.3L1415.0 969.5L1416.0 967.9L1417.0 971.7L1418.0 968.7L1419.0 972.1L1420.0 971.1L1421.0 972.4L1422.0 972.5L1423.0 970.0L1424.0 971.3L1425.0 970.9L1426.0 971.4L1427.0 972.5L1428.0 973.5L1429.0 972.8L1430.0 974.3L1431.0 973.8L1432.0 974.0L1433.0 974.3L1434.0 973.9L1435.0 976.2L1436.0 975.7L1437.0 973.6L1438.0 975.0L1439.0 974.3L1440.0 976.9L1441.0 974.4L1442.0 975.9L1443.0 977.7L1444.0 978.3L1445.0 976.3L1446.0 976.8L1447.0 976.0L1448.0 977.5L1449.0 976.9L1450.0 977.2L1451.0 979.7L1452.0 978.0L1453.0 978.2L1454.0 977.0L1455.0 978.5L1456.0 981.0L1457.0 979.1L1458.0 981.5L1459.0 980.6L1460.0 981.3L1461.0 978.8L1462.0 980.0L1463.0 980.1L1464.0 982.1L1465.0 982.4L1466.0 982.3L1467.0 983.2L1468.0 983.1L1469.0 983.8L1470.0 984.8L1471.0 986.4L1472.0 985.2L1473.0 987.7L1474.0 984.4L1475.0 988.0L1476.0 988.3L1477.0 986.4L1478.0 986.8L1479.0 990.5L1480.0 988.1L1481.0 989.6L1482.0 992.2L1483.0 989.2L1484.0 990.0L1485.0 990.0L1486.0 993.2L1487.0 994.1L1488.0 991.7L1489.0 993.5L1490.0 995.3L1491.0 992.2L1492.0 996.0L1493.0 994.9L1494.0 994.9L1495.0 993.7L1496.0 994.9L1497.0 996.6L1498.0 996.4L1499.0 994.0L1500.0 994.4L1501.0 998.1L1502.0 995.9L1503.0 997.9L1504.0 995.0L1505.0 996.1L1506.0 998.2L1507.0 996.7L1508.0 995.7L1509.0 995.5L1510.0 996.9L1511.0 999.6L1512.0 996.9L1513.0 996.0L1514.0 999.3L1515.0 996.0L1516.0 999.6L1517.0 999.1L1518.0 996.7L1519.0 998.5L1520.0 999.4L1521.0 999.2L1522.0 1000.1L1523.0 999.5L1524.0 1000.5L1525.0 999.4L1526.0 998.5L1527.0 997.6L1528.0 999.4L1529.0 997.6L1530.0 1000.8L1531.0 1000.8L1532.0 998.3L1533.0 999.4L1534.0 1001.2L1535.0 998.8L1536.0 1001.0L1537.0 1001.3L1538.0 998.7L1539.0 1001.8L1540.0 1001.1L1541.0 997.5L1542.0 1000.8L1543.0 1000.1L1544.0 997.6L1545.0 999.6L1546.0 996.7L1547.0 998.7L1548.0 998.2L1549.0 996.9L1550.0 998.9L1551.0 999.0L1552.0 999.5L1553.0 997.5L1554.0 998.7L1555.0 997.6L1556.0 997.6L1557.0 998.7L1558.0 998.6L1559.0 996.9L1560.0 999.8L1561.0 999.9L1562.0 998.1L1563.0 1001.1L1564.0 998.9L1565.0 1000.2L1566.0 999.3L1567.0 1001.2L1568.0 1000.2L1569.0 998.5L1570.0 1002.1L1571.0 998.3L1572.0 1000.3L1573.0 1000.2L1574.0 1002.0L1575.0 1002.1L1576.0 998.8L1577.0 999.0L1578.0 1001.8L1579.0 998.5L1580.0 998.9L1581.0 1001.6L1582.0 1002.3L1583.0 999.8L1584.0 1002.4L1585.0 1001.5L1586.0 1000.0L1587.0 1001.7L1588.0 1002.5L1589.0 1000.3L1590.0 1004.5L1591.0 1001.9L1592.0 1001.2L1593.0 1001.3L1594.0 1005.5L1595.0 1003.9L1596.0 1005.1L1597.0 1005.9L1598.0 1006.3L1599.0 1006.4L1600.0 1003.8L1601.0 1007.5L1602.0 1007.4L1603.0 1005.5L1604.0 1007.8L1605.0 1006.1L1606.0 1006.6L1607.0 1007.4L1608.0 1008.7L1609.0 1006.5L1610.0 1006.5L1611.0 1008.5L1612.0 1008.1L1613.0 1009.0L1614.0 1009.4L1615.0 1009.1L1616.0 1009.5L1617.0 1011.0L1618.0 1009.0L1619.0 1010.8L1620.0 1012.0L1621.0 1010.3L1622.0 1009.5L1623.0 1010.9L1624.0 1011.6L1625.0 1011.7L1626.0 1009.6L1627.0 1009.6L1628.0 1011.9L1629.0 1011.7L1630.0 1010.5L1631.0 1011.6L1632.0 1014.3L1633.0 1010.6L1634.0 1014.8L1635.0 1013.2L1636.0 1015.3L1637.0 1011.6L1638.0 1011.6L1639.0 1013.2L1640.0 1012.7L1641.0 1016.1L1642.0 1014.6L1643.0 1015.2L1644.0 1014.5L1645.0 1013.0L1646.0 1014.1L1647.0 1016.5L1648.0 1014.7L1649.0 1013.7L1650.0 1015.4L1651.0 1015.4L1652.0 1017.1L1653.0 1017.6L1654.0 1014.8L1655.0 1016.4" stroke="#808000" stroke-width="10.5"/>
</g>
<g stroke="#000" stroke-width="9" fill="none">
<rect x="145.4" y="31" width="1515.6" height="1114.6"/>
<line x1="145.4" y1="1145" x2="145.4" y2="1168"/>
<line x1="361.9" y1="1145" x2="361.9" y2="1168"/>
<line x1="578.4" y1="1145" x2="578.4" y2="1168"/>
<line x1="794.9" y1="1145" x2="794.9" y2="1168"/>
<line x1="1011.5" y1="1145" x2="1011.5" y2="1168"/>
<line x1="1228.0" y1="1145" x2="1228.0" y2="1168"/>
<line x1="1444.5" y1="1145" x2="1444.5" y2="1168"/>
<line x1="1661.0" y1="1145" x2="1661.0" y2="1168"/>
<line x1="253.7" y1="1145" x2="253.7" y2="1157"/>
<line x1="470.2" y1="1145" x2="470.2" y2="1157"/>
<line x1="686.7" y1="1145" x2="686.7" y2="1157"/>
<line x1="903.2" y1="1145" x2="903.2" y2="1157"/>
<line x1="1119.7" y1="1145" x2="1119.7" y2="1157"/>
<line x1="1336.2" y1="1145" x2="1336.2" y2="1157"/>
<line x1="1552.7" y1="1145" x2="1552.7" y2="1157"/>
</g>
<g font-family="'Liberation Serif', serif" font-weight="bold" font-size="90" text-anchor="middle" fill="#000">
<text x="143.4" y="1253">350</text>
<text x="359.9" y="1253">400</text>
<text x="576.4" y="1253">450</text>
<text x="792.9" y="1253">500</text>
<text x="1009.5" y="1253">550</text>
<text x="1226.0" y="1253">600</text>
<text x="1442.5" y="1253">650</text>
<text x="1659.0" y="1253">700</text>
</g>
<text transform="translate(797 1382) scale(1.08 0.93)" font-family="'Liberation Serif', serif" font-size="90" fill="#000">λ</text>
<text x="841" y="1382" font-family="'Liberation Serif', serif" font-size="90" fill="#000">/</text>
<text x="866.5" y="1382" font-family="'Liberation Serif', serif" font-weight="bold" font-size="90" fill="#000">nm</text>
<text transform="translate(91.5 869) rotate(-90)" font-family="'Liberation Serif', serif" font-weight="bold" font-size="90" fill="#000">Intensity/(a.u.)</text>
<g font-family="'Liberation Serif', serif" font-weight="bold" font-size="65" fill="#000">
<text x="1291" y="240.3">TiO<tspan font-size="48">2</tspan></text>
<text x="1291" y="318.5">HT</text>
<text x="1291" y="399.3">BHT2</text>
<text x="1291" y="479.5">BHT4</text>
<text x="1291" y="560.2">BHT8</text>
<text x="1291" y="638.4">BHT6</text>
</g>
<line x1="1265.8" y1="201" x2="1265.8" y2="605" stroke="#000" stroke-width="4.5"/>
<polygon points="1257.5,597.5 1274.5,597.5 1272.2,612 1269.6,629 1262.6,629 1259.2,612" fill="#000"/>
</svg>
</body></html>
